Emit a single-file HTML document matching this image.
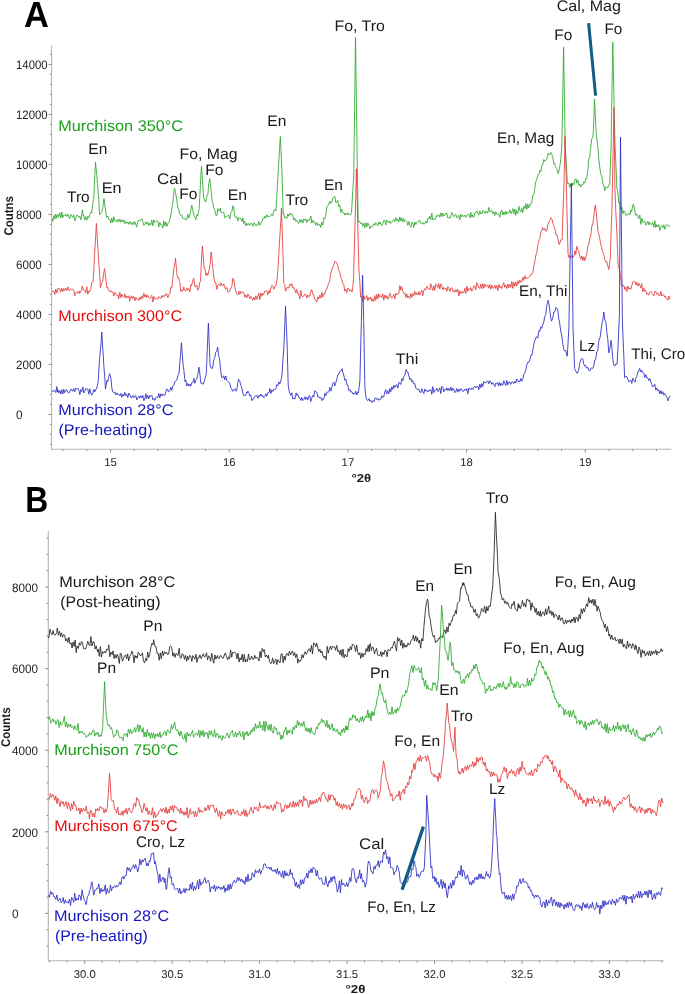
<!DOCTYPE html>
<html><head><meta charset="utf-8"><style>
html,body{margin:0;padding:0;background:#fff;}
body{width:685px;height:994px;overflow:hidden;font-family:"Liberation Sans", sans-serif;}
svg{display:block;will-change:transform;text-rendering:geometricPrecision;}
</style></head><body>
<svg width="685" height="994" viewBox="0 0 685 994" font-family='"Liberation Sans", sans-serif'><line x1="51.6" y1="45.5" x2="51.6" y2="449.3" stroke="#b4b4b4" stroke-width="1.1"/>
<line x1="51.1" y1="449.3" x2="671.4" y2="449.3" stroke="#b4b4b4" stroke-width="1.1"/>
<line x1="49.8" y1="444.4" x2="51.6" y2="444.4" stroke="#8c8c8c" stroke-width="1"/>
<line x1="49.8" y1="434.4" x2="51.6" y2="434.4" stroke="#8c8c8c" stroke-width="1"/>
<line x1="49.8" y1="424.4" x2="51.6" y2="424.4" stroke="#8c8c8c" stroke-width="1"/>
<line x1="48.4" y1="414.4" x2="51.6" y2="414.4" stroke="#8c8c8c" stroke-width="1"/>
<line x1="49.8" y1="404.4" x2="51.6" y2="404.4" stroke="#8c8c8c" stroke-width="1"/>
<line x1="49.8" y1="394.4" x2="51.6" y2="394.4" stroke="#8c8c8c" stroke-width="1"/>
<line x1="49.8" y1="384.4" x2="51.6" y2="384.4" stroke="#8c8c8c" stroke-width="1"/>
<line x1="49.8" y1="374.4" x2="51.6" y2="374.4" stroke="#8c8c8c" stroke-width="1"/>
<line x1="48.4" y1="364.4" x2="51.6" y2="364.4" stroke="#8c8c8c" stroke-width="1"/>
<line x1="49.8" y1="354.4" x2="51.6" y2="354.4" stroke="#8c8c8c" stroke-width="1"/>
<line x1="49.8" y1="344.4" x2="51.6" y2="344.4" stroke="#8c8c8c" stroke-width="1"/>
<line x1="49.8" y1="334.4" x2="51.6" y2="334.4" stroke="#8c8c8c" stroke-width="1"/>
<line x1="49.8" y1="324.4" x2="51.6" y2="324.4" stroke="#8c8c8c" stroke-width="1"/>
<line x1="48.4" y1="314.4" x2="51.6" y2="314.4" stroke="#8c8c8c" stroke-width="1"/>
<line x1="49.8" y1="304.4" x2="51.6" y2="304.4" stroke="#8c8c8c" stroke-width="1"/>
<line x1="49.8" y1="294.4" x2="51.6" y2="294.4" stroke="#8c8c8c" stroke-width="1"/>
<line x1="49.8" y1="284.4" x2="51.6" y2="284.4" stroke="#8c8c8c" stroke-width="1"/>
<line x1="49.8" y1="274.4" x2="51.6" y2="274.4" stroke="#8c8c8c" stroke-width="1"/>
<line x1="48.4" y1="264.4" x2="51.6" y2="264.4" stroke="#8c8c8c" stroke-width="1"/>
<line x1="49.8" y1="254.4" x2="51.6" y2="254.4" stroke="#8c8c8c" stroke-width="1"/>
<line x1="49.8" y1="244.4" x2="51.6" y2="244.4" stroke="#8c8c8c" stroke-width="1"/>
<line x1="49.8" y1="234.4" x2="51.6" y2="234.4" stroke="#8c8c8c" stroke-width="1"/>
<line x1="49.8" y1="224.4" x2="51.6" y2="224.4" stroke="#8c8c8c" stroke-width="1"/>
<line x1="48.4" y1="214.4" x2="51.6" y2="214.4" stroke="#8c8c8c" stroke-width="1"/>
<line x1="49.8" y1="204.4" x2="51.6" y2="204.4" stroke="#8c8c8c" stroke-width="1"/>
<line x1="49.8" y1="194.4" x2="51.6" y2="194.4" stroke="#8c8c8c" stroke-width="1"/>
<line x1="49.8" y1="184.4" x2="51.6" y2="184.4" stroke="#8c8c8c" stroke-width="1"/>
<line x1="49.8" y1="174.4" x2="51.6" y2="174.4" stroke="#8c8c8c" stroke-width="1"/>
<line x1="48.4" y1="164.4" x2="51.6" y2="164.4" stroke="#8c8c8c" stroke-width="1"/>
<line x1="49.8" y1="154.4" x2="51.6" y2="154.4" stroke="#8c8c8c" stroke-width="1"/>
<line x1="49.8" y1="144.4" x2="51.6" y2="144.4" stroke="#8c8c8c" stroke-width="1"/>
<line x1="49.8" y1="134.4" x2="51.6" y2="134.4" stroke="#8c8c8c" stroke-width="1"/>
<line x1="49.8" y1="124.4" x2="51.6" y2="124.4" stroke="#8c8c8c" stroke-width="1"/>
<line x1="48.4" y1="114.4" x2="51.6" y2="114.4" stroke="#8c8c8c" stroke-width="1"/>
<line x1="49.8" y1="104.4" x2="51.6" y2="104.4" stroke="#8c8c8c" stroke-width="1"/>
<line x1="49.8" y1="94.4" x2="51.6" y2="94.4" stroke="#8c8c8c" stroke-width="1"/>
<line x1="49.8" y1="84.4" x2="51.6" y2="84.4" stroke="#8c8c8c" stroke-width="1"/>
<line x1="49.8" y1="74.4" x2="51.6" y2="74.4" stroke="#8c8c8c" stroke-width="1"/>
<line x1="48.4" y1="64.4" x2="51.6" y2="64.4" stroke="#8c8c8c" stroke-width="1"/>
<line x1="49.8" y1="54.4" x2="51.6" y2="54.4" stroke="#8c8c8c" stroke-width="1"/>
<text x="16.0" y="69.2" font-size="12.2" fill="#262626" textLength="31.6" lengthAdjust="spacingAndGlyphs">14000</text>
<text x="16.0" y="119.2" font-size="12.2" fill="#262626" textLength="31.6" lengthAdjust="spacingAndGlyphs">12000</text>
<text x="16.0" y="169.2" font-size="12.2" fill="#262626" textLength="31.6" lengthAdjust="spacingAndGlyphs">10000</text>
<text x="16.0" y="219.2" font-size="12.2" fill="#262626" textLength="25.8" lengthAdjust="spacingAndGlyphs">8000</text>
<text x="16.0" y="269.2" font-size="12.2" fill="#262626" textLength="25.8" lengthAdjust="spacingAndGlyphs">6000</text>
<text x="16.0" y="319.2" font-size="12.2" fill="#262626" textLength="25.8" lengthAdjust="spacingAndGlyphs">4000</text>
<text x="16.0" y="369.2" font-size="12.2" fill="#262626" textLength="25.8" lengthAdjust="spacingAndGlyphs">2000</text>
<text x="16.0" y="419.2" font-size="12.2" fill="#262626" textLength="6.5" lengthAdjust="spacingAndGlyphs">0</text>
<line x1="63.0" y1="449.3" x2="63.0" y2="451.1" stroke="#8c8c8c" stroke-width="1"/>
<line x1="86.8" y1="449.3" x2="86.8" y2="451.1" stroke="#8c8c8c" stroke-width="1"/>
<line x1="110.5" y1="449.3" x2="110.5" y2="452.5" stroke="#8c8c8c" stroke-width="1"/>
<line x1="134.2" y1="449.3" x2="134.2" y2="451.1" stroke="#8c8c8c" stroke-width="1"/>
<line x1="158.0" y1="449.3" x2="158.0" y2="451.1" stroke="#8c8c8c" stroke-width="1"/>
<line x1="181.7" y1="449.3" x2="181.7" y2="451.1" stroke="#8c8c8c" stroke-width="1"/>
<line x1="205.5" y1="449.3" x2="205.5" y2="451.1" stroke="#8c8c8c" stroke-width="1"/>
<line x1="229.2" y1="449.3" x2="229.2" y2="452.5" stroke="#8c8c8c" stroke-width="1"/>
<line x1="252.9" y1="449.3" x2="252.9" y2="451.1" stroke="#8c8c8c" stroke-width="1"/>
<line x1="276.7" y1="449.3" x2="276.7" y2="451.1" stroke="#8c8c8c" stroke-width="1"/>
<line x1="300.4" y1="449.3" x2="300.4" y2="451.1" stroke="#8c8c8c" stroke-width="1"/>
<line x1="324.2" y1="449.3" x2="324.2" y2="451.1" stroke="#8c8c8c" stroke-width="1"/>
<line x1="347.9" y1="449.3" x2="347.9" y2="452.5" stroke="#8c8c8c" stroke-width="1"/>
<line x1="371.6" y1="449.3" x2="371.6" y2="451.1" stroke="#8c8c8c" stroke-width="1"/>
<line x1="395.4" y1="449.3" x2="395.4" y2="451.1" stroke="#8c8c8c" stroke-width="1"/>
<line x1="419.1" y1="449.3" x2="419.1" y2="451.1" stroke="#8c8c8c" stroke-width="1"/>
<line x1="442.9" y1="449.3" x2="442.9" y2="451.1" stroke="#8c8c8c" stroke-width="1"/>
<line x1="466.6" y1="449.3" x2="466.6" y2="452.5" stroke="#8c8c8c" stroke-width="1"/>
<line x1="490.3" y1="449.3" x2="490.3" y2="451.1" stroke="#8c8c8c" stroke-width="1"/>
<line x1="514.1" y1="449.3" x2="514.1" y2="451.1" stroke="#8c8c8c" stroke-width="1"/>
<line x1="537.8" y1="449.3" x2="537.8" y2="451.1" stroke="#8c8c8c" stroke-width="1"/>
<line x1="561.6" y1="449.3" x2="561.6" y2="451.1" stroke="#8c8c8c" stroke-width="1"/>
<line x1="585.3" y1="449.3" x2="585.3" y2="452.5" stroke="#8c8c8c" stroke-width="1"/>
<line x1="609.0" y1="449.3" x2="609.0" y2="451.1" stroke="#8c8c8c" stroke-width="1"/>
<line x1="632.8" y1="449.3" x2="632.8" y2="451.1" stroke="#8c8c8c" stroke-width="1"/>
<line x1="656.5" y1="449.3" x2="656.5" y2="451.1" stroke="#8c8c8c" stroke-width="1"/>
<text x="110.5" y="465.9" font-size="11.3" fill="#262626" text-anchor="middle">15</text>
<text x="229.2" y="465.9" font-size="11.3" fill="#262626" text-anchor="middle">16</text>
<text x="347.9" y="465.9" font-size="11.3" fill="#262626" text-anchor="middle">17</text>
<text x="466.6" y="465.9" font-size="11.3" fill="#262626" text-anchor="middle">18</text>
<text x="585.3" y="465.9" font-size="11.3" fill="#262626" text-anchor="middle">19</text>
<text x="351.6" y="481.8" font-size="11.5" fill="#1a1a1a" font-weight="bold" textLength="19.6" lengthAdjust="spacingAndGlyphs">°2θ</text>
<text x="0" y="0" font-size="12.6" font-weight="bold" fill="#1a1a1a" textLength="39.4" lengthAdjust="spacingAndGlyphs" transform="translate(13.2,235.6) rotate(-90)">Coutns</text>
<text x="24.0" y="26.9" font-size="36.2" fill="#000" font-weight="bold" textLength="24.9" lengthAdjust="spacingAndGlyphs">A</text>
<line x1="48.3" y1="530.8" x2="48.3" y2="960.7" stroke="#b4b4b4" stroke-width="1.1"/>
<line x1="47.8" y1="960.7" x2="663.5" y2="960.7" stroke="#b4b4b4" stroke-width="1.1"/>
<line x1="46.5" y1="946.0" x2="48.3" y2="946.0" stroke="#8c8c8c" stroke-width="1"/>
<line x1="46.5" y1="929.7" x2="48.3" y2="929.7" stroke="#8c8c8c" stroke-width="1"/>
<line x1="45.1" y1="913.4" x2="48.3" y2="913.4" stroke="#8c8c8c" stroke-width="1"/>
<line x1="46.5" y1="897.1" x2="48.3" y2="897.1" stroke="#8c8c8c" stroke-width="1"/>
<line x1="46.5" y1="880.8" x2="48.3" y2="880.8" stroke="#8c8c8c" stroke-width="1"/>
<line x1="46.5" y1="864.4" x2="48.3" y2="864.4" stroke="#8c8c8c" stroke-width="1"/>
<line x1="46.5" y1="848.1" x2="48.3" y2="848.1" stroke="#8c8c8c" stroke-width="1"/>
<line x1="45.1" y1="831.8" x2="48.3" y2="831.8" stroke="#8c8c8c" stroke-width="1"/>
<line x1="46.5" y1="815.5" x2="48.3" y2="815.5" stroke="#8c8c8c" stroke-width="1"/>
<line x1="46.5" y1="799.2" x2="48.3" y2="799.2" stroke="#8c8c8c" stroke-width="1"/>
<line x1="46.5" y1="782.8" x2="48.3" y2="782.8" stroke="#8c8c8c" stroke-width="1"/>
<line x1="46.5" y1="766.5" x2="48.3" y2="766.5" stroke="#8c8c8c" stroke-width="1"/>
<line x1="45.1" y1="750.2" x2="48.3" y2="750.2" stroke="#8c8c8c" stroke-width="1"/>
<line x1="46.5" y1="733.9" x2="48.3" y2="733.9" stroke="#8c8c8c" stroke-width="1"/>
<line x1="46.5" y1="717.6" x2="48.3" y2="717.6" stroke="#8c8c8c" stroke-width="1"/>
<line x1="46.5" y1="701.2" x2="48.3" y2="701.2" stroke="#8c8c8c" stroke-width="1"/>
<line x1="46.5" y1="684.9" x2="48.3" y2="684.9" stroke="#8c8c8c" stroke-width="1"/>
<line x1="45.1" y1="668.6" x2="48.3" y2="668.6" stroke="#8c8c8c" stroke-width="1"/>
<line x1="46.5" y1="652.3" x2="48.3" y2="652.3" stroke="#8c8c8c" stroke-width="1"/>
<line x1="46.5" y1="636.0" x2="48.3" y2="636.0" stroke="#8c8c8c" stroke-width="1"/>
<line x1="46.5" y1="619.6" x2="48.3" y2="619.6" stroke="#8c8c8c" stroke-width="1"/>
<line x1="46.5" y1="603.3" x2="48.3" y2="603.3" stroke="#8c8c8c" stroke-width="1"/>
<line x1="45.1" y1="587.0" x2="48.3" y2="587.0" stroke="#8c8c8c" stroke-width="1"/>
<line x1="46.5" y1="570.7" x2="48.3" y2="570.7" stroke="#8c8c8c" stroke-width="1"/>
<line x1="46.5" y1="554.4" x2="48.3" y2="554.4" stroke="#8c8c8c" stroke-width="1"/>
<line x1="46.5" y1="538.0" x2="48.3" y2="538.0" stroke="#8c8c8c" stroke-width="1"/>
<text x="11.9" y="591.7" font-size="12.2" fill="#262626" textLength="26.0" lengthAdjust="spacingAndGlyphs">8000</text>
<text x="11.9" y="673.3" font-size="12.2" fill="#262626" textLength="26.0" lengthAdjust="spacingAndGlyphs">6000</text>
<text x="11.9" y="754.9" font-size="12.2" fill="#262626" textLength="26.0" lengthAdjust="spacingAndGlyphs">4000</text>
<text x="11.9" y="836.5" font-size="12.2" fill="#262626" textLength="26.0" lengthAdjust="spacingAndGlyphs">2000</text>
<text x="11.9" y="918.1" font-size="12.2" fill="#262626" textLength="6.6" lengthAdjust="spacingAndGlyphs">0</text>
<line x1="49.7" y1="960.7" x2="49.7" y2="962.5" stroke="#8c8c8c" stroke-width="1"/>
<line x1="67.2" y1="960.7" x2="67.2" y2="962.5" stroke="#8c8c8c" stroke-width="1"/>
<line x1="84.7" y1="960.7" x2="84.7" y2="963.9000000000001" stroke="#8c8c8c" stroke-width="1"/>
<line x1="102.2" y1="960.7" x2="102.2" y2="962.5" stroke="#8c8c8c" stroke-width="1"/>
<line x1="119.7" y1="960.7" x2="119.7" y2="962.5" stroke="#8c8c8c" stroke-width="1"/>
<line x1="137.2" y1="960.7" x2="137.2" y2="962.5" stroke="#8c8c8c" stroke-width="1"/>
<line x1="154.7" y1="960.7" x2="154.7" y2="962.5" stroke="#8c8c8c" stroke-width="1"/>
<line x1="172.2" y1="960.7" x2="172.2" y2="963.9000000000001" stroke="#8c8c8c" stroke-width="1"/>
<line x1="189.6" y1="960.7" x2="189.6" y2="962.5" stroke="#8c8c8c" stroke-width="1"/>
<line x1="207.1" y1="960.7" x2="207.1" y2="962.5" stroke="#8c8c8c" stroke-width="1"/>
<line x1="224.6" y1="960.7" x2="224.6" y2="962.5" stroke="#8c8c8c" stroke-width="1"/>
<line x1="242.1" y1="960.7" x2="242.1" y2="962.5" stroke="#8c8c8c" stroke-width="1"/>
<line x1="259.6" y1="960.7" x2="259.6" y2="963.9000000000001" stroke="#8c8c8c" stroke-width="1"/>
<line x1="277.1" y1="960.7" x2="277.1" y2="962.5" stroke="#8c8c8c" stroke-width="1"/>
<line x1="294.6" y1="960.7" x2="294.6" y2="962.5" stroke="#8c8c8c" stroke-width="1"/>
<line x1="312.1" y1="960.7" x2="312.1" y2="962.5" stroke="#8c8c8c" stroke-width="1"/>
<line x1="329.6" y1="960.7" x2="329.6" y2="962.5" stroke="#8c8c8c" stroke-width="1"/>
<line x1="347.1" y1="960.7" x2="347.1" y2="963.9000000000001" stroke="#8c8c8c" stroke-width="1"/>
<line x1="364.5" y1="960.7" x2="364.5" y2="962.5" stroke="#8c8c8c" stroke-width="1"/>
<line x1="382.0" y1="960.7" x2="382.0" y2="962.5" stroke="#8c8c8c" stroke-width="1"/>
<line x1="399.5" y1="960.7" x2="399.5" y2="962.5" stroke="#8c8c8c" stroke-width="1"/>
<line x1="417.0" y1="960.7" x2="417.0" y2="962.5" stroke="#8c8c8c" stroke-width="1"/>
<line x1="434.5" y1="960.7" x2="434.5" y2="963.9000000000001" stroke="#8c8c8c" stroke-width="1"/>
<line x1="452.0" y1="960.7" x2="452.0" y2="962.5" stroke="#8c8c8c" stroke-width="1"/>
<line x1="469.5" y1="960.7" x2="469.5" y2="962.5" stroke="#8c8c8c" stroke-width="1"/>
<line x1="487.0" y1="960.7" x2="487.0" y2="962.5" stroke="#8c8c8c" stroke-width="1"/>
<line x1="504.5" y1="960.7" x2="504.5" y2="962.5" stroke="#8c8c8c" stroke-width="1"/>
<line x1="522.0" y1="960.7" x2="522.0" y2="963.9000000000001" stroke="#8c8c8c" stroke-width="1"/>
<line x1="539.4" y1="960.7" x2="539.4" y2="962.5" stroke="#8c8c8c" stroke-width="1"/>
<line x1="556.9" y1="960.7" x2="556.9" y2="962.5" stroke="#8c8c8c" stroke-width="1"/>
<line x1="574.4" y1="960.7" x2="574.4" y2="962.5" stroke="#8c8c8c" stroke-width="1"/>
<line x1="591.9" y1="960.7" x2="591.9" y2="962.5" stroke="#8c8c8c" stroke-width="1"/>
<line x1="609.4" y1="960.7" x2="609.4" y2="963.9000000000001" stroke="#8c8c8c" stroke-width="1"/>
<line x1="626.9" y1="960.7" x2="626.9" y2="962.5" stroke="#8c8c8c" stroke-width="1"/>
<line x1="644.4" y1="960.7" x2="644.4" y2="962.5" stroke="#8c8c8c" stroke-width="1"/>
<line x1="661.9" y1="960.7" x2="661.9" y2="962.5" stroke="#8c8c8c" stroke-width="1"/>
<text x="84.7" y="977.9" font-size="11.3" fill="#262626" text-anchor="middle">30.0</text>
<text x="172.2" y="977.9" font-size="11.3" fill="#262626" text-anchor="middle">30.5</text>
<text x="259.6" y="977.9" font-size="11.3" fill="#262626" text-anchor="middle">31.0</text>
<text x="347.1" y="977.9" font-size="11.3" fill="#262626" text-anchor="middle">31.5</text>
<text x="434.5" y="977.9" font-size="11.3" fill="#262626" text-anchor="middle">32.0</text>
<text x="522.0" y="977.9" font-size="11.3" fill="#262626" text-anchor="middle">32.5</text>
<text x="609.4" y="977.9" font-size="11.3" fill="#262626" text-anchor="middle">33.0</text>
<text x="345.5" y="993.0" font-size="11.5" fill="#1a1a1a" font-weight="bold" textLength="19.9" lengthAdjust="spacingAndGlyphs">°2θ</text>
<text x="0" y="0" font-size="12.6" font-weight="bold" fill="#1a1a1a" textLength="39.4" lengthAdjust="spacingAndGlyphs" transform="translate(9.5,746.9) rotate(-90)">Counts</text>
<text x="25.3" y="512.4" font-size="36.2" fill="#000" font-weight="bold" textLength="23.0" lengthAdjust="spacingAndGlyphs">B</text>
<path d="M51.8,218.8 L52.8,221.3 L53.8,215.4 L54.8,219.1 L55.8,214.0 L56.8,218.3 L57.8,214.6 L58.8,216.6 L59.8,212.7 L60.8,218.1 L61.8,212.0 L62.8,217.7 L63.8,215.1 L64.6,215.9 L65.8,214.2 L66.8,216.5 L67.8,214.1 L68.8,216.8 L69.8,218.6 L70.8,214.5 L71.9,215.9 L72.8,217.3 L73.8,214.8 L74.8,220.7 L75.8,217.9 L76.8,215.2 L77.8,215.5 L79.2,217.4 L79.8,216.3 L80.8,219.8 L81.5,216.0 L82.4,209.8 L83.3,216.0 L83.8,215.1 L84.3,218.8 L84.8,220.0 L85.8,216.5 L86.8,220.1 L87.8,216.4 L88.7,218.1 L89.8,214.7 L90.8,212.2 L91.6,213.0 L92.8,203.7 L93.8,198.4 L94.8,175.9 L95.5,162.2 L96.8,175.2 L97.4,183.8 L98.8,199.8 L99.6,214.5 L100.8,213.7 L101.8,211.5 L102.8,207.6 L104.0,198.4 L104.8,205.0 L106.2,214.5 L106.8,217.4 L107.8,216.0 L108.8,219.6 L109.9,219.6 L110.8,223.0 L111.8,218.0 L112.8,222.5 L113.8,216.8 L114.8,221.0 L115.7,220.3 L116.8,222.1 L117.8,219.2 L118.8,221.7 L119.8,219.2 L120.8,222.3 L121.8,219.7 L123.0,221.8 L123.8,219.8 L124.8,223.8 L125.8,221.6 L126.8,223.4 L127.8,222.0 L128.8,224.4 L129.8,221.5 L130.3,223.2 L130.8,222.3 L131.8,224.7 L132.8,222.3 L133.8,224.7 L134.8,221.6 L135.8,224.5 L136.8,227.1 L137.6,222.5 L138.8,220.1 L140.0,221.0 L140.8,220.3 L141.8,218.7 L142.8,221.5 L143.8,225.4 L144.9,224.0 L145.8,221.7 L146.8,224.3 L147.8,222.2 L148.8,225.5 L150.0,223.2 L150.8,224.8 L151.8,220.0 L152.8,225.8 L153.8,219.8 L154.6,222.5 L155.8,221.7 L156.8,220.3 L157.8,221.1 L158.8,227.1 L159.8,222.3 L160.8,225.0 L161.9,224.7 L162.8,228.0 L163.8,220.9 L164.8,225.9 L165.8,221.8 L166.8,226.4 L167.8,223.6 L169.2,221.8 L169.8,220.2 L170.8,215.0 L171.4,211.5 L172.8,203.2 L173.8,192.0 L174.6,188.2 L175.8,194.0 L177.2,202.8 L177.8,207.4 L178.8,209.3 L179.4,213.0 L180.8,215.6 L181.8,215.3 L182.8,218.3 L183.8,218.8 L184.8,218.1 L185.8,219.9 L186.7,219.6 L187.8,214.2 L188.8,218.1 L189.6,215.9 L190.8,210.6 L191.8,205.0 L192.8,210.8 L194.0,215.9 L194.8,216.5 L195.8,219.7 L196.9,214.5 L197.8,215.9 L199.1,208.6 L199.8,197.5 L200.8,177.0 L201.5,166.3 L202.8,185.0 L203.5,196.9 L204.8,201.2 L205.7,202.0 L206.8,196.6 L207.9,194.0 L208.8,183.4 L209.8,178.7 L210.8,186.6 L211.8,198.5 L212.3,201.3 L212.8,202.5 L213.8,208.2 L214.8,210.1 L215.9,215.2 L216.8,216.1 L217.8,208.6 L218.8,211.0 L219.8,210.6 L220.3,207.9 L220.8,212.1 L221.8,212.3 L222.5,213.0 L223.8,212.3 L224.8,218.1 L225.8,216.8 L226.8,216.3 L227.6,215.9 L228.8,215.2 L229.8,218.8 L230.8,212.6 L231.8,211.8 L233.0,205.7 L233.8,208.0 L234.8,216.2 L235.6,217.4 L236.8,216.8 L237.8,220.9 L238.8,217.5 L240.0,218.8 L240.8,218.5 L241.8,221.4 L242.3,221.2 L242.8,217.9 L243.8,223.5 L244.8,221.4 L245.8,226.1 L246.8,223.3 L247.8,225.1 L248.8,223.3 L249.6,225.5 L250.8,223.2 L251.8,223.6 L252.8,226.4 L253.8,222.8 L254.8,223.6 L255.8,225.8 L256.9,224.8 L257.8,225.4 L258.8,221.3 L259.8,225.3 L260.8,223.6 L261.8,221.8 L262.8,218.5 L264.2,218.2 L264.8,216.1 L265.8,218.1 L266.8,214.7 L267.8,216.7 L268.8,216.5 L269.8,216.3 L270.8,215.8 L271.5,213.9 L272.8,215.7 L273.8,211.2 L274.8,209.4 L275.9,210.9 L276.8,198.4 L277.3,187.6 L277.8,178.4 L278.8,161.6 L279.8,144.2 L280.4,136.5 L282.0,173.0 L283.2,213.9 L283.8,213.5 L284.8,218.2 L285.4,216.8 L286.8,218.6 L287.8,214.0 L288.8,216.2 L289.8,213.2 L290.5,214.6 L291.8,213.7 L292.8,216.0 L293.8,220.2 L294.8,218.1 L295.8,221.3 L296.8,220.2 L297.8,222.6 L298.8,223.5 L299.8,219.4 L300.8,222.3 L301.8,219.6 L302.8,223.2 L303.8,218.9 L305.1,220.4 L305.8,219.0 L306.8,222.5 L307.8,219.6 L308.8,220.8 L309.5,220.0 L310.9,216.1 L311.8,222.8 L312.3,221.0 L312.8,220.2 L313.8,222.6 L314.8,222.2 L315.8,225.2 L316.8,222.5 L317.8,225.6 L318.8,225.2 L319.7,224.1 L320.8,227.4 L321.8,222.2 L322.8,225.1 L323.3,221.9 L323.8,217.8 L324.8,218.8 L325.8,214.9 L326.8,206.8 L327.8,205.3 L328.4,205.1 L329.8,201.0 L330.8,203.5 L331.8,202.3 L332.8,197.8 L333.8,197.0 L334.8,196.2 L335.8,202.4 L336.8,202.2 L337.8,200.3 L338.3,203.6 L338.8,206.6 L339.8,205.2 L340.8,212.4 L341.8,209.2 L342.7,212.5 L343.8,212.4 L344.8,215.1 L345.8,213.0 L347.1,214.7 L347.8,212.9 L348.8,214.8 L349.8,214.5 L350.8,214.4 L351.5,212.5 L352.8,190.4 L353.8,174.9 L354.8,91.8 L355.5,37.3 L357.1,152.7 L358.2,219.1 L358.8,222.1 L359.8,221.6 L360.4,223.5 L361.8,223.0 L362.8,226.2 L363.8,223.3 L364.8,227.7 L365.8,222.9 L366.8,226.9 L367.8,222.8 L369.2,225.8 L369.8,228.6 L370.8,226.4 L371.8,226.7 L372.8,226.2 L373.8,223.6 L374.8,225.3 L375.8,222.5 L376.8,224.7 L377.8,225.8 L378.8,221.8 L379.8,224.1 L380.3,222.4 L380.8,224.8 L381.8,225.7 L382.8,223.8 L383.8,220.3 L384.8,220.4 L385.8,224.9 L386.8,220.0 L387.8,220.9 L388.8,223.0 L389.8,221.2 L390.8,223.5 L391.4,222.4 L392.8,220.9 L393.8,219.4 L394.8,221.6 L395.8,217.4 L396.8,220.7 L398.0,219.1 L398.8,221.9 L399.8,216.9 L400.8,221.0 L401.8,217.8 L402.8,222.1 L403.8,218.7 L404.6,221.3 L405.8,220.6 L406.8,221.7 L407.8,225.3 L408.8,221.4 L409.8,225.4 L410.8,227.2 L411.3,225.8 L411.8,222.2 L412.8,222.9 L413.8,227.5 L414.8,221.8 L415.8,224.5 L416.8,222.4 L417.9,222.4 L418.8,220.8 L419.8,220.2 L420.8,223.7 L421.8,223.9 L422.8,222.4 L423.8,224.2 L425.0,223.5 L425.8,221.2 L426.8,223.0 L427.8,218.4 L428.8,219.1 L429.8,216.2 L430.8,219.6 L431.8,213.1 L432.8,220.0 L433.8,218.8 L434.8,219.8 L435.8,217.8 L436.8,215.2 L437.5,216.5 L438.8,214.7 L439.8,217.3 L440.8,212.8 L441.8,216.6 L442.8,213.2 L443.8,216.1 L444.8,215.1 L445.8,213.2 L446.3,213.9 L446.8,212.9 L447.8,217.9 L448.8,216.9 L449.8,218.4 L450.8,217.0 L451.8,212.3 L452.8,214.3 L453.8,216.7 L455.0,215.6 L455.8,214.1 L456.8,217.6 L457.8,217.4 L458.8,215.2 L459.8,219.9 L460.8,214.3 L461.8,216.9 L462.8,215.3 L463.8,216.5 L464.8,215.0 L465.8,217.3 L466.8,215.3 L467.8,214.6 L468.8,214.2 L469.8,218.0 L470.8,212.3 L471.8,217.2 L472.6,214.8 L473.8,217.3 L474.8,212.7 L475.8,212.8 L476.8,210.9 L477.8,213.1 L478.8,215.1 L479.8,210.9 L480.8,213.8 L481.3,213.0 L481.8,214.1 L482.8,210.3 L483.8,211.2 L484.8,213.5 L485.8,211.2 L486.8,213.0 L487.8,213.0 L488.8,207.4 L490.1,212.1 L490.8,211.1 L491.8,210.3 L492.8,213.7 L493.8,211.7 L494.8,215.4 L495.8,211.8 L496.8,214.2 L497.8,214.4 L498.8,213.9 L499.8,217.4 L500.8,211.6 L501.8,210.0 L502.8,215.0 L503.8,211.9 L504.8,214.7 L505.8,211.0 L506.8,214.3 L507.6,212.1 L508.8,212.6 L509.8,209.8 L510.8,213.7 L511.8,211.9 L512.8,208.6 L513.8,214.0 L514.8,209.0 L515.8,215.3 L516.4,210.4 L517.8,213.5 L518.8,206.3 L519.8,210.3 L520.8,211.9 L521.8,208.2 L522.8,212.6 L523.8,206.3 L525.1,208.6 L525.8,203.6 L526.8,209.4 L527.8,204.2 L528.8,207.9 L529.8,204.6 L530.4,205.1 L531.8,202.0 L532.8,195.0 L533.9,194.6 L534.8,188.0 L535.8,181.5 L536.5,180.6 L537.8,175.3 L538.8,174.9 L540.0,170.1 L540.8,171.6 L542.1,164.2 L542.8,164.7 L543.8,159.6 L544.8,161.4 L545.8,160.0 L546.8,159.3 L548.1,153.3 L548.8,154.5 L549.8,154.6 L550.8,152.4 L551.7,154.5 L552.8,156.8 L553.8,163.8 L554.8,163.6 L555.4,166.6 L556.8,168.6 L557.8,173.1 L558.5,173.8 L560.2,164.2 L560.8,158.6 L561.9,144.9 L562.8,93.8 L563.6,47.1 L565.2,144.9 L565.8,157.4 L566.8,172.4 L567.4,183.5 L568.8,183.0 L569.8,187.5 L570.8,183.7 L572.2,185.9 L572.8,182.8 L573.8,184.7 L574.8,180.1 L575.9,178.7 L576.8,183.2 L577.8,179.9 L578.8,185.5 L579.8,184.2 L580.7,187.1 L581.8,184.4 L582.8,184.9 L583.8,181.7 L584.8,183.1 L585.8,178.4 L586.7,178.7 L587.8,170.8 L588.8,159.3 L589.8,156.7 L590.4,149.7 L591.8,138.5 L592.8,137.7 L593.3,131.6 L593.8,120.6 L594.5,99.0 L595.8,126.2 L596.4,135.2 L597.8,146.4 L598.8,159.8 L600.0,169.0 L600.8,174.2 L601.8,176.6 L602.8,183.5 L603.8,185.0 L604.8,190.7 L605.8,187.0 L606.8,187.1 L607.8,187.7 L608.8,184.9 L609.7,184.7 L611.1,144.9 L611.8,101.4 L612.8,42.2 L613.8,90.2 L615.0,144.9 L615.8,161.9 L616.9,188.3 L617.8,191.7 L618.8,202.8 L619.8,201.8 L620.5,210.0 L621.8,207.4 L622.8,213.7 L623.8,210.7 L624.8,211.9 L625.8,215.2 L626.6,214.9 L627.8,214.8 L628.8,213.0 L629.8,214.8 L630.8,210.4 L631.5,212.0 L632.8,205.3 L633.3,204.0 L633.8,205.3 L635.0,212.0 L635.8,215.3 L636.8,213.9 L637.4,216.1 L638.8,218.7 L639.8,215.0 L640.8,224.4 L641.8,218.4 L642.8,222.6 L643.5,222.1 L644.8,220.9 L645.8,225.3 L646.8,224.0 L647.8,221.1 L648.8,225.0 L649.8,222.3 L650.7,223.3 L651.8,224.8 L652.8,222.7 L653.8,227.2 L654.8,220.6 L655.8,227.5 L656.8,224.6 L657.8,226.7 L658.8,224.7 L659.8,230.5 L660.4,226.9 L661.8,225.6 L662.8,227.7 L663.8,224.8 L664.8,229.4 L665.8,225.4 L666.8,224.6 L667.8,225.1 L668.8,226.5 L670.0,225.7" fill="none" stroke="#2ca82c" stroke-width="0.85" stroke-linejoin="round" stroke-opacity="1.0"/>
<path d="M51.8,292.0 L52.8,291.1 L53.8,290.9 L54.8,294.5 L55.8,289.2 L56.8,293.1 L57.3,291.2 L57.8,288.6 L58.8,288.9 L59.8,288.7 L60.8,291.9 L61.8,288.4 L62.8,291.5 L63.8,288.5 L64.6,290.5 L65.8,288.2 L66.8,290.7 L67.8,286.8 L68.8,290.1 L69.8,290.6 L70.4,289.1 L71.8,289.4 L72.8,289.1 L73.8,290.0 L74.8,295.6 L75.5,293.4 L76.8,291.7 L77.8,293.3 L79.2,291.2 L79.8,293.5 L80.8,291.4 L81.5,290.0 L82.4,286.1 L83.5,290.0 L85.0,290.5 L85.8,292.8 L86.8,286.8 L87.8,294.3 L88.8,291.0 L89.4,292.0 L90.9,288.3 L91.8,282.4 L93.1,281.8 L93.8,270.2 L94.5,255.5 L95.8,234.3 L96.4,223.4 L98.2,252.6 L98.8,263.1 L99.8,276.3 L100.4,287.6 L101.8,282.7 L102.6,281.8 L103.8,272.6 L104.5,268.6 L106.2,281.8 L106.8,287.7 L107.8,287.0 L108.4,290.5 L109.8,291.8 L110.8,290.4 L111.8,292.3 L112.8,292.0 L113.8,296.0 L114.8,292.2 L115.8,293.8 L117.2,295.6 L117.8,294.8 L118.8,298.7 L119.8,292.3 L120.8,297.7 L121.8,294.2 L123.0,296.4 L123.8,297.2 L124.8,293.8 L125.8,298.1 L126.8,295.9 L127.8,297.8 L128.8,295.8 L129.8,301.3 L130.3,297.1 L130.8,298.1 L131.8,295.7 L132.8,298.6 L133.8,296.4 L134.8,300.9 L135.8,297.4 L136.8,298.9 L137.6,298.5 L138.8,300.5 L139.8,297.0 L140.8,299.5 L141.8,295.8 L142.8,298.4 L143.8,293.3 L144.9,297.1 L145.8,294.4 L146.8,297.7 L147.8,295.3 L148.8,297.5 L149.8,298.5 L150.8,296.6 L151.8,295.2 L152.8,302.1 L153.8,296.5 L154.8,298.9 L155.8,298.6 L156.7,298.1 L157.8,299.3 L158.8,296.6 L159.8,297.8 L160.8,298.5 L161.8,295.5 L162.8,297.3 L164.0,295.2 L164.8,296.3 L165.8,293.9 L166.8,293.8 L167.8,297.6 L169.1,294.5 L169.8,293.7 L170.8,287.1 L172.0,287.2 L172.8,278.4 L174.2,266.7 L174.8,263.9 L175.5,258.2 L177.1,275.5 L177.8,278.0 L178.8,277.7 L179.3,281.3 L179.8,281.6 L180.8,291.5 L181.8,289.7 L182.8,291.3 L183.8,286.9 L184.4,290.1 L185.8,291.1 L186.8,287.8 L187.8,290.2 L188.8,288.6 L189.8,291.8 L190.8,284.8 L191.4,285.7 L193.2,279.1 L193.8,278.3 L194.8,286.2 L195.4,287.2 L196.8,284.9 L197.8,290.3 L199.0,287.9 L199.8,282.0 L200.5,281.3 L201.8,254.3 L202.4,246.0 L204.1,268.2 L204.8,267.6 L205.8,275.1 L206.3,275.5 L206.8,273.0 L207.8,275.2 L209.2,269.6 L209.8,267.1 L211.1,252.1 L211.8,257.7 L212.9,268.2 L213.8,277.5 L215.1,282.8 L215.8,282.5 L216.8,289.3 L217.3,287.2 L217.8,285.1 L218.8,284.3 L219.8,286.0 L220.9,282.8 L221.8,285.5 L222.8,285.8 L223.8,283.8 L224.6,287.2 L225.8,289.2 L226.8,287.4 L227.8,291.8 L228.9,292.3 L229.8,290.8 L231.1,287.2 L231.8,286.9 L232.8,278.5 L233.3,278.4 L233.8,279.7 L234.8,287.2 L236.2,293.0 L236.8,293.8 L237.8,294.9 L238.8,291.0 L239.8,294.5 L240.8,291.4 L241.4,293.0 L242.8,292.2 L243.8,292.7 L244.8,297.2 L245.8,294.9 L246.8,298.0 L247.8,294.0 L248.8,294.9 L249.8,298.8 L250.8,296.4 L251.7,298.5 L252.8,300.2 L253.8,297.0 L254.8,300.1 L255.8,295.9 L256.8,299.3 L257.5,297.8 L258.8,293.3 L259.8,299.6 L260.8,292.8 L261.8,296.3 L262.8,293.6 L263.4,294.9 L264.8,291.0 L265.8,291.4 L266.8,290.6 L267.8,294.8 L269.2,290.5 L269.8,293.1 L270.8,287.9 L271.8,285.5 L272.8,286.2 L273.8,289.3 L275.0,286.1 L275.8,285.8 L277.2,278.8 L277.8,270.6 L278.8,254.5 L279.4,243.8 L280.8,220.8 L281.5,208.0 L282.6,243.8 L283.8,283.2 L284.8,284.5 L285.3,290.5 L285.8,291.2 L286.8,287.7 L288.2,287.6 L288.8,288.0 L289.8,284.2 L290.8,285.8 L291.8,283.5 L292.8,288.1 L294.0,287.6 L294.8,289.8 L295.8,293.0 L296.8,289.5 L297.8,294.0 L298.4,293.4 L299.8,298.8 L300.8,290.4 L301.8,296.3 L302.8,296.6 L304.2,295.6 L304.8,294.1 L305.8,294.4 L306.8,298.1 L307.8,295.0 L308.6,296.4 L309.8,296.1 L311.2,289.8 L311.8,290.0 L313.0,294.9 L313.8,295.2 L314.8,299.4 L315.9,300.0 L316.8,302.2 L317.8,296.9 L318.8,298.9 L319.8,295.0 L320.3,296.4 L320.8,298.2 L321.8,292.5 L322.8,297.2 L323.8,293.5 L324.7,294.2 L325.8,290.0 L326.8,289.4 L327.6,286.1 L328.8,283.4 L329.8,280.0 L330.5,274.5 L331.8,269.9 L332.8,266.9 L334.2,264.2 L334.8,261.4 L336.1,262.0 L336.8,263.1 L337.8,265.5 L338.4,269.7 L339.8,272.2 L340.8,277.6 L341.8,279.9 L342.8,283.7 L343.8,284.5 L344.8,291.3 L345.3,290.2 L345.8,289.3 L346.8,292.5 L347.8,288.0 L348.7,288.5 L349.8,291.2 L350.8,289.8 L352.1,291.9 L352.8,286.7 L353.5,279.9 L354.7,235.5 L355.8,194.0 L356.4,168.8 L357.6,218.4 L358.9,269.7 L359.8,281.3 L360.6,297.0 L361.8,296.3 L362.8,301.8 L363.8,295.9 L364.8,299.3 L365.8,298.7 L366.8,295.5 L367.8,300.9 L368.8,297.6 L369.8,299.3 L370.8,297.1 L371.8,301.3 L372.6,298.7 L373.8,301.5 L374.8,295.6 L375.8,300.3 L376.8,294.3 L377.8,298.8 L378.8,293.7 L379.4,297.0 L380.8,295.7 L381.8,297.7 L382.8,293.9 L383.8,300.2 L384.8,295.0 L385.8,298.2 L386.3,297.0 L386.8,295.7 L387.8,299.3 L388.8,298.1 L389.8,293.2 L390.8,295.8 L391.8,298.2 L393.1,296.2 L393.8,294.3 L394.8,299.0 L395.8,293.1 L396.8,295.0 L398.2,293.6 L398.8,293.6 L399.8,285.6 L400.8,290.1 L401.3,286.8 L401.8,286.6 L402.8,291.6 L404.2,293.6 L404.8,292.8 L405.8,297.5 L406.8,293.8 L407.8,297.9 L408.5,296.2 L409.8,298.4 L410.8,293.5 L411.8,297.3 L412.8,293.7 L413.8,295.6 L414.8,291.4 L415.3,293.6 L415.8,294.9 L416.8,292.8 L417.8,295.0 L418.8,291.5 L419.8,295.1 L420.5,293.6 L421.8,290.2 L422.8,295.7 L423.8,290.5 L424.8,288.7 L425.6,290.2 L426.8,286.4 L427.8,288.0 L428.8,289.2 L430.0,289.9 L430.8,283.8 L431.8,287.0 L432.8,290.5 L433.8,285.7 L434.8,290.4 L435.8,284.1 L436.8,285.0 L438.0,287.5 L438.8,283.7 L439.8,289.0 L440.8,283.9 L441.8,285.7 L442.8,289.9 L443.8,287.4 L444.8,288.9 L446.1,288.3 L446.8,291.3 L447.8,286.6 L448.8,288.3 L449.8,291.6 L450.8,288.4 L451.8,287.7 L452.8,291.7 L454.1,290.7 L454.8,292.2 L455.8,289.6 L456.8,292.0 L457.8,289.3 L458.8,296.0 L459.8,290.7 L460.8,293.7 L462.1,291.5 L462.8,293.0 L463.8,292.7 L464.8,288.4 L465.8,293.6 L466.8,286.4 L467.8,291.4 L468.8,288.5 L470.1,289.9 L470.8,287.5 L471.8,291.4 L472.8,289.5 L473.8,285.9 L474.8,286.1 L475.8,290.0 L476.8,282.7 L478.2,285.9 L478.8,287.8 L479.8,288.3 L480.8,284.2 L481.8,288.7 L482.8,283.6 L483.8,288.2 L484.8,284.0 L486.2,286.7 L486.8,286.0 L487.8,284.8 L488.8,288.2 L489.8,284.6 L490.8,289.2 L491.8,285.0 L492.8,288.4 L494.2,287.5 L494.8,285.2 L495.8,288.6 L496.8,285.5 L497.8,290.6 L498.8,284.4 L499.8,287.9 L500.8,286.2 L501.8,288.7 L502.3,286.7 L502.8,285.6 L503.8,282.6 L504.8,287.4 L505.8,285.1 L506.8,288.5 L507.8,284.0 L508.8,287.8 L509.8,284.3 L510.3,285.1 L510.8,287.3 L511.8,281.4 L512.8,288.4 L513.8,282.2 L514.8,286.2 L515.8,282.1 L516.8,286.2 L517.8,280.7 L518.3,281.9 L518.8,283.6 L519.8,280.1 L520.8,282.2 L521.8,282.0 L522.8,277.3 L523.8,280.4 L524.8,275.7 L525.8,278.9 L526.4,277.9 L527.8,277.9 L528.8,277.5 L530.0,276.1 L531.2,273.9 L531.8,274.1 L532.8,272.7 L533.6,267.4 L534.8,261.7 L536.0,254.6 L536.8,252.7 L537.8,245.4 L539.1,239.9 L539.8,238.5 L540.8,232.5 L541.8,230.5 L542.4,227.5 L543.8,230.1 L544.8,228.4 L545.8,230.9 L546.8,231.0 L547.8,224.6 L549.2,221.8 L549.8,220.4 L550.8,217.8 L552.0,219.1 L552.8,222.9 L553.8,225.7 L554.9,228.6 L555.8,234.6 L556.8,234.5 L557.8,238.3 L558.8,243.8 L559.4,244.5 L560.8,239.9 L562.1,239.9 L562.8,216.2 L563.9,187.9 L565.0,136.4 L566.2,176.6 L566.8,204.8 L568.0,253.5 L568.8,257.4 L569.8,255.8 L570.7,258.0 L571.8,255.2 L572.8,257.8 L574.1,255.8 L574.8,250.7 L575.8,254.6 L576.8,246.2 L577.5,249.0 L578.8,250.9 L579.8,256.7 L580.9,259.2 L581.8,255.8 L582.8,260.8 L583.8,256.7 L584.8,260.6 L585.4,258.0 L586.8,254.1 L587.8,246.2 L588.8,244.0 L590.0,237.7 L590.8,235.3 L591.8,226.2 L592.8,223.8 L593.4,219.6 L594.8,207.8 L595.4,204.9 L596.8,218.3 L597.9,230.9 L598.8,234.3 L599.8,238.9 L600.8,244.7 L601.8,247.7 L602.4,251.3 L603.8,254.6 L604.8,259.7 L605.8,261.9 L606.8,261.4 L608.1,267.1 L608.8,269.4 L609.8,261.2 L610.3,258.0 L610.8,240.6 L611.9,210.5 L612.8,165.2 L614.0,107.4 L614.9,187.9 L615.8,211.2 L616.8,231.6 L617.8,256.6 L618.3,267.1 L618.8,266.6 L619.8,271.4 L620.8,279.3 L621.6,286.3 L622.8,285.6 L623.8,285.4 L624.8,289.6 L625.8,286.9 L626.8,291.7 L627.3,288.6 L627.8,286.0 L628.8,289.2 L629.8,287.7 L630.8,289.3 L632.0,285.0 L632.8,281.9 L634.1,281.8 L634.8,281.2 L636.0,285.0 L636.8,282.4 L637.8,286.1 L638.8,283.3 L639.8,285.2 L640.8,288.2 L641.8,283.7 L642.8,292.0 L643.8,288.3 L644.8,291.1 L645.8,290.4 L646.8,294.3 L647.7,293.1 L648.8,295.1 L649.8,292.4 L650.8,291.3 L651.8,292.8 L652.8,294.4 L653.8,296.0 L654.8,291.2 L655.8,291.7 L656.7,294.2 L657.8,292.8 L658.8,295.3 L659.8,296.0 L660.8,291.4 L661.8,296.1 L662.8,294.9 L663.8,294.8 L664.8,297.3 L665.8,296.5 L666.8,298.9 L667.8,300.2 L668.8,296.0 L669.8,299.3 L670.3,298.8" fill="none" stroke="#e43a3a" stroke-width="0.85" stroke-linejoin="round" stroke-opacity="1.0"/>
<path d="M51.8,390.5 L52.8,391.7 L53.8,390.3 L54.8,390.7 L55.8,392.6 L56.8,386.6 L57.3,392.0 L57.8,389.5 L58.8,393.0 L59.8,390.6 L60.8,394.1 L61.8,389.7 L62.8,394.0 L63.8,389.3 L64.6,392.7 L65.8,390.1 L66.8,389.7 L67.8,392.4 L68.8,393.0 L69.8,391.8 L70.8,389.3 L71.9,389.8 L72.8,391.3 L73.8,388.7 L74.8,391.7 L75.8,388.2 L76.8,389.0 L77.8,388.3 L79.2,391.2 L79.8,394.6 L80.8,389.5 L81.8,391.6 L82.8,387.0 L83.8,393.0 L84.8,391.2 L85.8,388.3 L86.5,389.1 L87.8,389.2 L88.8,394.2 L89.8,388.8 L90.8,393.4 L91.8,395.2 L92.3,393.4 L92.8,393.5 L93.8,389.4 L94.8,391.9 L96.0,389.1 L96.8,388.0 L98.2,381.8 L98.8,370.3 L99.6,358.4 L100.8,345.7 L101.8,332.1 L102.8,349.2 L103.3,355.5 L103.8,365.2 L104.8,377.8 L105.5,389.1 L106.8,380.5 L107.7,381.8 L108.8,376.5 L109.6,373.7 L110.8,377.6 L111.3,381.8 L111.8,387.8 L112.8,392.0 L113.8,392.9 L114.8,392.0 L115.8,394.7 L116.8,392.8 L117.8,395.0 L118.6,394.2 L119.8,395.9 L120.8,393.4 L121.8,397.2 L122.8,394.2 L123.8,396.1 L124.8,392.3 L125.9,395.6 L126.8,394.3 L127.8,397.6 L128.8,393.0 L129.8,394.8 L130.8,397.7 L131.8,397.6 L132.8,395.4 L133.8,397.8 L134.7,396.4 L135.8,395.6 L136.8,399.9 L137.8,397.9 L138.8,396.1 L139.8,398.1 L140.8,395.7 L142.0,397.8 L142.8,395.4 L143.8,400.8 L144.8,398.9 L145.8,393.6 L146.8,398.6 L147.8,395.3 L148.8,399.0 L149.8,395.5 L150.8,396.4 L151.8,395.4 L152.8,399.7 L153.8,398.4 L154.8,400.4 L155.8,397.7 L156.7,397.1 L157.8,397.7 L158.8,393.5 L159.8,397.9 L160.8,393.8 L161.8,396.1 L162.5,394.2 L163.8,394.8 L164.8,395.5 L165.8,391.6 L166.8,389.0 L167.8,389.7 L168.4,392.0 L169.8,390.7 L170.8,387.1 L171.8,390.3 L172.7,386.1 L173.8,385.5 L174.8,382.0 L175.8,380.6 L177.1,379.6 L177.8,375.5 L178.8,374.0 L179.3,370.1 L179.8,362.5 L180.8,351.8 L181.4,342.8 L183.2,365.7 L183.8,369.7 L185.1,381.8 L185.8,380.2 L186.8,386.0 L187.8,383.3 L188.8,386.1 L189.8,384.1 L190.8,386.2 L191.8,382.5 L193.2,381.8 L193.8,378.3 L194.8,383.3 L195.8,380.4 L196.8,378.8 L197.8,374.6 L198.9,367.2 L199.8,373.1 L200.8,383.2 L201.8,382.8 L202.8,384.3 L203.4,383.9 L204.8,379.3 L205.8,375.5 L206.3,373.0 L206.8,361.9 L207.8,335.7 L208.4,323.1 L210.0,364.2 L210.8,367.5 L212.2,368.6 L212.8,366.4 L213.8,359.9 L214.3,358.4 L214.8,357.4 L215.8,352.2 L216.8,351.2 L217.6,347.0 L218.8,356.3 L219.5,358.4 L220.8,371.5 L221.6,377.4 L222.8,377.9 L223.8,375.7 L224.8,379.8 L225.3,377.4 L225.8,376.0 L226.8,380.4 L228.2,381.8 L228.8,382.1 L229.8,383.2 L230.8,388.0 L231.8,388.9 L232.6,391.2 L233.8,390.5 L234.8,388.5 L236.2,391.2 L236.8,390.2 L237.8,382.7 L238.6,379.3 L239.8,381.1 L240.8,385.7 L241.4,386.1 L243.1,394.2 L243.8,395.8 L244.8,395.1 L245.8,395.4 L246.8,392.0 L247.3,392.9 L247.8,391.0 L248.8,392.5 L249.8,396.1 L250.8,394.9 L251.8,400.7 L253.1,398.8 L253.8,398.9 L254.8,396.3 L255.8,395.7 L256.8,395.3 L257.8,398.4 L259.0,395.1 L259.8,396.4 L260.8,394.0 L261.8,396.4 L262.8,395.4 L263.8,397.8 L264.8,396.6 L265.8,393.7 L266.8,396.2 L267.8,392.7 L269.2,392.2 L269.8,388.5 L270.8,393.6 L271.8,389.9 L272.8,391.5 L273.6,389.3 L274.8,389.9 L275.8,388.8 L276.8,384.5 L278.0,385.6 L278.8,381.9 L279.8,383.8 L280.9,380.5 L281.8,376.1 L282.3,370.3 L282.8,361.2 L283.8,348.4 L284.8,325.0 L285.5,306.1 L287.0,341.1 L288.2,384.9 L288.8,389.3 L289.6,392.9 L290.8,395.4 L291.8,392.8 L292.8,399.1 L294.0,398.0 L294.8,399.1 L296.2,392.9 L296.8,395.3 L297.8,394.2 L298.8,397.6 L299.9,398.0 L300.8,400.4 L301.8,397.4 L302.8,400.6 L303.8,399.5 L304.8,396.8 L305.7,399.5 L306.8,397.2 L307.8,399.8 L308.8,396.1 L309.8,395.8 L310.8,401.6 L311.5,398.8 L312.8,395.3 L313.8,396.8 L314.8,390.7 L316.2,391.8 L316.8,392.3 L317.8,397.0 L318.8,396.6 L319.8,398.1 L320.8,397.2 L321.8,400.6 L322.5,398.8 L323.8,399.3 L324.8,393.4 L325.8,395.7 L326.8,391.9 L327.6,392.2 L328.8,391.9 L329.8,387.3 L330.8,391.1 L332.0,387.1 L332.8,383.5 L333.8,382.1 L334.8,385.9 L335.6,383.4 L336.8,379.2 L337.8,374.7 L338.8,374.2 L339.5,371.6 L340.8,371.0 L342.2,368.6 L342.8,372.1 L344.0,376.1 L344.8,380.3 L345.8,379.0 L347.1,385.2 L347.8,385.1 L348.8,390.7 L350.1,389.7 L350.8,392.2 L351.8,391.6 L353.1,394.2 L353.8,393.0 L354.8,394.3 L355.8,391.1 L356.8,394.9 L357.8,392.1 L358.4,392.7 L359.9,380.7 L360.8,343.0 L361.4,320.3 L362.6,275.1 L363.7,320.3 L364.9,388.2 L365.9,397.3 L366.8,399.7 L367.8,400.6 L368.8,398.7 L369.7,401.0 L370.8,400.3 L371.8,402.6 L372.8,400.6 L374.2,401.8 L374.8,398.4 L375.8,397.9 L376.8,399.6 L377.8,398.3 L378.8,400.3 L380.2,398.8 L380.8,399.3 L381.8,395.7 L382.8,397.5 L383.8,396.8 L384.8,391.6 L385.8,389.6 L386.3,392.7 L386.8,393.9 L387.8,390.7 L388.8,393.8 L389.8,388.5 L390.8,391.8 L391.8,386.8 L392.3,388.2 L392.8,389.5 L393.8,385.3 L394.8,387.7 L395.8,385.1 L396.8,384.8 L397.8,388.1 L398.3,385.2 L398.8,382.2 L399.8,383.1 L400.8,384.5 L401.8,378.4 L402.9,380.7 L403.8,376.7 L404.8,375.1 L406.2,369.4 L406.8,371.6 L407.8,371.8 L408.9,376.1 L409.8,379.5 L410.8,378.2 L411.8,381.9 L412.8,380.5 L413.4,383.7 L414.8,383.7 L415.8,388.3 L416.8,388.8 L418.0,389.7 L418.8,389.1 L419.8,392.1 L420.8,392.7 L421.8,388.7 L422.8,392.1 L423.8,393.6 L424.8,389.1 L425.5,391.2 L426.8,390.1 L427.8,392.1 L428.8,390.3 L430.0,390.8 L430.8,389.4 L431.8,394.3 L432.8,386.7 L433.8,392.6 L434.8,390.3 L435.8,390.4 L436.8,388.1 L438.0,391.6 L438.8,390.2 L439.8,387.9 L440.8,393.6 L441.8,386.2 L442.8,387.4 L443.8,391.8 L444.8,389.4 L446.1,390.0 L446.8,387.8 L447.8,390.5 L448.8,388.3 L449.8,390.6 L450.8,387.1 L451.8,391.0 L452.8,388.1 L454.1,390.0 L454.8,392.7 L455.8,391.5 L456.8,388.5 L457.8,392.2 L458.8,389.1 L459.8,391.2 L460.8,388.6 L462.1,390.0 L462.8,391.6 L463.8,391.1 L464.8,389.2 L465.8,390.4 L466.8,388.6 L467.8,393.9 L468.8,388.0 L470.1,389.2 L470.8,389.7 L471.8,387.9 L472.8,389.3 L473.8,387.2 L474.8,386.3 L475.8,388.0 L476.8,386.3 L478.2,386.8 L478.8,389.8 L479.8,383.9 L480.8,387.8 L481.8,383.6 L482.8,386.6 L483.8,381.4 L484.8,382.8 L486.2,382.8 L486.8,381.8 L487.8,380.8 L488.8,383.8 L489.8,380.8 L491.0,382.0 L491.8,384.4 L492.8,382.6 L494.2,385.2 L494.8,386.7 L495.8,383.1 L496.8,384.2 L497.8,382.5 L498.8,386.1 L499.8,382.6 L500.8,385.6 L501.8,383.4 L502.3,384.4 L502.8,385.2 L503.8,380.7 L504.8,383.4 L505.8,385.7 L506.8,380.4 L507.8,384.9 L508.8,382.1 L509.8,382.0 L510.3,383.6 L510.8,384.4 L511.8,382.1 L512.8,381.8 L513.8,383.5 L514.8,381.2 L515.8,383.1 L516.8,379.0 L517.8,380.4 L518.3,382.0 L518.8,381.2 L519.8,381.8 L520.8,378.4 L521.8,381.4 L522.3,379.6 L522.8,379.1 L523.8,374.3 L524.7,373.1 L525.8,370.4 L526.8,364.8 L528.0,361.9 L528.8,362.3 L530.0,359.6 L530.8,355.4 L531.8,355.5 L532.8,350.7 L533.8,344.2 L534.5,341.5 L536.0,337.8 L536.8,336.6 L537.8,337.9 L539.1,330.2 L539.8,331.3 L540.8,326.8 L541.8,328.3 L542.4,325.6 L543.8,322.1 L544.7,316.6 L545.8,314.5 L546.8,305.4 L548.1,300.3 L548.8,302.9 L549.8,309.7 L550.8,318.1 L551.5,321.1 L552.8,317.8 L553.8,312.0 L554.8,311.7 L555.8,307.4 L557.2,308.7 L557.8,310.1 L558.8,319.2 L559.4,321.1 L560.8,331.7 L561.8,336.0 L562.8,343.7 L563.8,349.6 L564.8,350.9 L565.8,350.4 L566.8,355.5 L567.3,356.2 L567.8,346.7 L568.9,327.9 L569.8,273.8 L570.8,218.9 L571.4,183.4 L573.0,327.9 L573.8,347.3 L574.6,368.6 L575.8,371.1 L576.8,373.0 L577.5,373.1 L578.8,369.1 L579.8,363.2 L580.8,359.7 L581.6,358.4 L582.8,359.1 L583.8,364.3 L584.8,366.1 L585.4,365.2 L586.8,368.2 L587.8,367.3 L588.8,370.4 L590.0,370.9 L590.8,368.5 L591.8,368.0 L592.8,368.4 L593.8,365.8 L594.8,359.9 L595.6,359.6 L596.8,352.0 L597.8,350.2 L598.8,340.8 L600.2,336.9 L600.8,332.0 L601.8,324.9 L602.8,320.5 L603.8,312.0 L604.8,319.9 L605.8,321.4 L606.9,332.4 L607.8,339.3 L608.8,352.8 L609.8,349.3 L611.0,340.3 L611.8,346.6 L612.8,358.6 L613.7,365.2 L614.8,366.0 L615.8,363.8 L617.1,364.1 L617.8,350.7 L618.8,328.2 L619.4,316.6 L620.5,137.0 L621.8,265.3 L622.3,316.6 L622.8,331.9 L623.8,355.3 L624.6,377.7 L625.8,376.5 L626.8,376.7 L627.8,379.3 L628.8,382.0 L629.6,381.1 L630.8,380.0 L631.8,383.5 L632.8,378.2 L633.8,380.6 L635.2,382.2 L635.8,378.3 L636.8,376.4 L637.8,371.7 L638.8,371.3 L639.3,368.6 L639.8,368.7 L640.8,372.0 L641.8,370.3 L643.1,373.1 L643.8,373.2 L644.8,377.5 L645.8,374.6 L646.8,377.9 L647.7,377.7 L648.8,380.6 L649.8,378.5 L650.8,381.8 L652.2,385.6 L652.8,387.0 L653.8,385.7 L654.8,384.2 L655.8,390.1 L656.8,388.1 L657.8,391.0 L659.0,390.1 L659.8,394.0 L660.8,390.6 L661.8,394.0 L662.8,391.6 L663.8,395.1 L664.8,393.6 L665.8,395.8 L666.8,396.9 L667.8,400.9 L668.8,398.1 L669.8,396.2 L670.3,396.9" fill="none" stroke="#2a2ac4" stroke-width="0.85" stroke-linejoin="round" stroke-opacity="1.0"/>
<path d="M47.9,637.2 L48.9,637.7 L50.0,629.1 L50.8,632.8 L52.1,634.7 L53.1,630.4 L53.8,634.2 L55.2,635.2 L56.7,632.8 L57.3,627.9 L58.4,635.2 L59.6,631.3 L60.5,636.5 L61.5,632.9 L62.5,637.2 L63.6,634.5 L64.7,635.2 L65.7,641.1 L66.9,638.6 L67.8,642.4 L68.9,637.2 L69.9,644.0 L71.3,643.0 L72.0,648.0 L73.1,641.8 L74.1,646.5 L75.2,639.9 L76.2,652.7 L77.1,645.9 L78.3,648.5 L79.4,642.8 L80.4,645.3 L81.5,641.5 L82.5,642.9 L83.6,648.8 L84.4,648.8 L85.7,649.0 L86.7,645.6 L87.8,641.2 L88.8,644.5 L89.9,645.9 L90.9,636.6 L92.0,646.0 L93.2,641.5 L94.1,641.9 L95.1,649.1 L96.2,645.8 L97.6,651.8 L98.3,649.3 L99.3,656.4 L100.4,646.5 L101.4,657.1 L102.5,651.5 L103.4,653.2 L104.6,651.2 L105.6,653.0 L106.7,649.1 L107.8,650.3 L108.8,644.9 L109.8,656.7 L110.9,652.1 L112.2,654.7 L113.0,650.9 L114.0,658.6 L115.1,654.6 L116.1,658.1 L117.2,654.3 L118.0,656.1 L119.3,663.5 L120.3,653.2 L121.4,653.9 L122.4,661.3 L123.8,657.6 L124.5,655.9 L125.6,654.8 L126.6,659.0 L127.7,653.8 L128.7,661.0 L129.7,656.9 L130.8,654.6 L131.9,651.1 L132.9,653.8 L134.0,662.8 L135.0,655.4 L135.5,657.6 L136.1,656.1 L137.1,658.3 L138.2,652.2 L139.2,653.5 L140.0,655.5 L141.3,655.3 L142.4,652.9 L143.4,660.7 L144.5,662.9 L145.8,658.4 L146.6,660.8 L147.7,652.0 L148.7,657.4 L149.5,655.5 L151.0,646.7 L151.9,643.3 L152.9,644.9 L153.6,639.7 L155.0,646.6 L156.1,646.7 L157.1,653.5 L158.2,653.3 L159.2,660.3 L160.3,652.9 L161.3,658.8 L162.4,651.1 L163.4,655.5 L164.5,651.5 L165.5,653.7 L166.6,652.3 L167.7,654.7 L168.7,654.0 L169.7,646.6 L170.7,646.0 L171.8,647.7 L172.8,656.2 L173.9,652.8 L175.0,657.4 L176.0,653.5 L177.1,654.1 L178.0,655.5 L179.2,648.4 L180.2,658.0 L181.3,657.9 L182.3,653.6 L183.8,656.2 L184.4,659.3 L185.5,655.2 L186.5,661.4 L187.6,656.1 L188.2,659.9 L189.7,655.4 L190.7,656.1 L191.8,661.5 L192.8,655.5 L194.0,657.7 L194.9,659.2 L196.0,654.3 L197.0,662.4 L198.1,657.1 L199.1,657.8 L199.9,654.7 L201.2,658.7 L202.3,656.2 L203.3,653.7 L204.4,656.9 L205.7,656.2 L206.5,652.7 L207.5,660.0 L208.6,655.9 L209.6,656.8 L210.7,661.3 L211.7,653.2 L213.0,659.9 L213.8,663.2 L214.9,654.9 L215.9,659.2 L217.4,655.5 L218.0,658.2 L219.1,658.5 L220.1,655.6 L221.2,655.9 L221.8,657.7 L223.3,658.1 L224.7,654.0 L225.4,653.0 L226.4,656.5 L227.6,659.9 L228.5,656.7 L229.6,658.7 L230.6,649.9 L231.7,657.2 L232.7,652.1 L233.4,652.6 L234.8,652.3 L235.9,653.2 L236.9,658.8 L238.0,653.1 L239.0,662.1 L240.0,657.7 L241.1,660.0 L242.2,654.1 L243.2,661.8 L244.3,654.5 L245.3,662.1 L246.0,659.3 L247.4,661.6 L248.5,654.0 L249.5,659.9 L250.6,659.4 L251.6,656.1 L252.7,659.1 L253.7,659.3 L254.8,655.3 L255.8,658.4 L256.9,657.1 L257.9,658.4 L259.0,661.0 L260.0,651.3 L261.1,657.9 L262.1,648.4 L263.5,651.6 L264.2,649.5 L265.3,656.9 L266.3,655.0 L267.8,658.2 L268.4,655.1 L269.5,661.4 L270.5,663.5 L271.6,663.1 L272.6,657.9 L273.7,663.6 L274.7,661.6 L275.8,659.1 L276.8,664.6 L277.9,659.6 L278.8,661.5 L280.0,663.0 L281.0,654.2 L282.1,653.7 L283.1,662.8 L284.2,656.0 L285.2,660.3 L286.3,653.8 L287.6,653.8 L288.4,655.9 L289.4,651.3 L290.5,654.9 L291.9,651.6 L292.6,651.1 L293.6,655.6 L294.7,652.6 L295.7,657.5 L296.8,654.2 L297.8,663.2 L298.5,659.3 L299.9,661.7 L301.0,660.0 L302.0,654.6 L303.1,657.9 L304.1,654.2 L305.2,651.7 L306.2,654.4 L307.3,652.7 L308.3,649.5 L309.4,648.7 L310.4,651.9 L311.5,645.4 L312.5,654.0 L313.6,642.8 L314.9,643.9 L315.7,646.9 L316.7,643.1 L318.2,649.4 L318.8,651.6 L319.9,649.1 L320.9,653.0 L322.0,651.0 L323.0,655.9 L324.1,657.8 L324.8,656.0 L326.2,659.9 L327.2,646.3 L328.3,653.1 L329.2,649.4 L330.4,646.3 L331.4,649.6 L332.5,646.1 L333.5,647.2 L334.6,647.1 L335.6,650.3 L336.7,645.3 L337.9,651.6 L338.8,650.1 L339.8,654.7 L340.9,649.8 L341.9,656.5 L343.0,649.0 L344.0,658.0 L344.5,656.0 L345.1,654.3 L346.1,656.4 L347.2,656.7 L348.2,648.7 L349.3,651.3 L350.3,646.5 L351.4,649.8 L352.4,644.1 L353.2,645.0 L354.5,645.9 L355.6,651.6 L356.6,644.9 L357.6,651.6 L358.7,654.9 L359.8,652.7 L360.8,658.5 L361.9,653.0 L363.1,657.1 L364.0,653.6 L365.0,654.9 L366.1,648.6 L367.1,651.5 L368.2,645.2 L369.2,651.8 L369.7,645.0 L370.3,643.5 L371.3,650.5 L372.4,646.8 L373.4,647.9 L374.5,654.0 L375.1,651.6 L376.6,648.2 L377.6,654.9 L378.7,655.5 L380.0,655.3 L380.8,651.4 L381.8,656.6 L382.9,652.1 L383.9,654.5 L385.0,650.0 L386.1,651.2 L387.1,656.8 L388.1,649.3 L389.2,650.6 L390.2,650.5 L391.3,647.2 L392.3,648.2 L393.4,643.9 L394.4,641.0 L395.5,646.4 L396.5,651.2 L397.6,637.4 L398.4,641.0 L399.7,638.5 L400.7,645.6 L401.8,640.1 L402.8,648.3 L403.9,643.2 L404.9,647.3 L406.0,645.0 L406.6,647.1 L408.1,642.9 L409.1,645.1 L410.2,643.8 L411.2,639.9 L412.7,639.0 L413.3,635.2 L414.4,641.1 L415.8,635.9 L416.5,641.4 L417.5,637.6 L418.8,643.1 L419.6,640.0 L420.7,648.2 L421.7,638.5 L422.9,641.0 L423.8,628.1 L425.0,614.4 L425.9,606.0 L427.4,599.1 L428.0,600.8 L429.1,615.8 L430.1,618.5 L431.2,627.1 L432.2,632.8 L432.7,634.9 L433.3,636.7 L434.3,635.3 L435.4,642.7 L436.2,641.0 L437.5,641.4 L438.5,638.5 L439.3,639.0 L440.6,635.6 L441.7,636.7 L442.7,638.0 L443.4,632.8 L444.8,629.8 L445.9,633.5 L446.9,626.9 L447.4,629.8 L448.0,632.2 L449.0,623.2 L450.1,625.6 L451.5,620.6 L452.2,620.9 L453.2,615.3 L454.3,615.7 L455.6,610.4 L456.4,613.8 L457.4,603.1 L458.7,602.2 L459.5,601.3 L460.7,587.9 L461.6,588.4 L462.7,582.8 L463.2,585.4 L463.7,582.7 L464.8,585.9 L465.8,589.9 L466.9,594.4 L467.9,594.6 L469.0,601.6 L469.9,602.2 L471.1,607.3 L472.1,606.2 L473.2,608.5 L474.0,612.4 L475.3,609.3 L476.3,615.7 L477.4,613.8 L478.4,618.2 L479.1,617.5 L480.5,613.6 L481.6,608.4 L482.6,610.3 L483.7,612.1 L484.2,608.3 L484.7,606.3 L485.8,613.3 L486.8,606.6 L487.9,611.0 L488.9,605.8 L490.4,606.3 L491.0,600.2 L492.1,590.8 L492.8,585.8 L494.2,551.8 L495.4,512.3 L496.3,532.5 L497.3,552.6 L498.1,571.5 L499.4,579.6 L500.6,594.0 L501.5,595.1 L502.2,599.9 L503.6,598.4 L504.7,603.3 L505.7,601.2 L506.7,604.2 L507.8,602.4 L508.9,606.5 L509.9,607.4 L511.0,608.8 L512.0,603.9 L512.8,605.3 L514.1,601.2 L515.2,609.1 L516.2,609.8 L517.3,611.2 L518.3,603.5 L518.8,608.2 L519.4,605.2 L520.4,608.7 L521.5,604.4 L522.5,600.4 L523.6,606.3 L524.6,603.2 L525.7,607.2 L526.7,599.4 L527.8,599.2 L528.5,601.2 L529.9,600.4 L530.9,610.4 L532.0,602.8 L532.7,606.8 L534.1,606.7 L535.1,612.5 L536.2,608.2 L537.2,615.0 L538.3,611.3 L539.3,616.0 L540.4,610.8 L541.0,616.5 L542.5,612.2 L543.5,612.2 L544.6,615.6 L545.6,608.7 L546.7,614.7 L547.7,610.1 L548.8,606.1 L549.3,612.3 L549.8,613.6 L550.9,610.7 L551.9,615.4 L553.0,611.8 L554.0,617.6 L555.1,614.0 L556.1,614.8 L557.2,616.8 L558.2,620.0 L559.3,615.0 L560.4,620.7 L561.4,618.0 L562.4,617.9 L563.5,623.3 L564.5,624.0 L565.6,619.7 L566.6,623.5 L567.7,620.3 L568.8,622.1 L569.8,619.9 L570.8,623.0 L571.9,619.0 L572.9,621.4 L574.0,617.0 L575.0,623.0 L576.1,616.9 L577.1,617.9 L578.2,621.4 L579.2,614.5 L580.3,618.9 L581.3,608.8 L582.4,613.7 L583.4,608.5 L584.5,611.8 L585.4,608.2 L586.6,603.9 L587.6,606.7 L588.7,597.6 L589.7,602.9 L591.0,599.9 L591.8,603.4 L592.9,599.1 L593.9,605.6 L595.0,599.4 L596.0,606.4 L596.5,605.4 L597.1,611.1 L598.1,606.3 L599.2,609.6 L600.2,612.4 L601.2,617.9 L602.3,620.9 L603.4,622.1 L604.4,627.6 L605.4,624.2 L606.5,631.6 L607.5,626.5 L609.0,635.9 L609.6,634.0 L610.7,639.4 L611.7,635.0 L612.8,639.5 L613.8,639.6 L614.9,637.2 L615.9,640.9 L617.3,640.1 L618.0,639.4 L619.1,643.6 L620.1,638.8 L621.2,643.8 L622.2,639.1 L623.3,647.1 L624.2,644.2 L625.4,647.2 L626.4,648.8 L627.5,641.0 L628.5,647.4 L629.6,643.9 L630.6,644.4 L631.7,648.4 L632.7,643.6 L633.8,644.9 L634.8,649.8 L635.3,648.4 L635.9,644.9 L636.9,650.1 L638.0,653.6 L639.0,647.0 L640.1,649.8 L641.1,657.5 L642.2,649.8 L643.2,653.2 L644.3,650.8 L645.3,656.1 L646.4,654.0 L647.4,651.7 L648.5,655.5 L649.5,650.7 L650.6,656.1 L651.6,651.0 L652.7,654.3 L653.7,651.3 L654.8,653.4 L655.8,649.9 L656.9,654.9 L657.5,651.2 L659.0,653.1 L660.0,652.0 L661.1,648.7 L662.1,651.7 L663.1,649.8" fill="none" stroke="#222222" stroke-width="0.85" stroke-linejoin="round" stroke-opacity="1.0"/>
<path d="M48.6,719.6 L49.6,716.6 L50.8,723.2 L51.7,721.7 L52.8,718.6 L53.8,721.8 L54.9,720.5 L55.9,724.5 L57.4,720.3 L58.0,719.5 L59.1,727.7 L59.6,726.1 L60.1,721.4 L61.2,725.4 L62.5,723.2 L63.3,721.1 L64.3,716.4 L65.4,727.0 L66.4,722.2 L67.5,727.8 L68.4,723.9 L69.6,726.9 L70.6,724.0 L71.3,727.6 L72.7,726.3 L73.8,729.7 L74.8,725.6 L75.7,728.3 L76.9,730.2 L78.0,723.4 L79.0,733.5 L80.0,731.2 L81.1,732.9 L82.2,731.2 L83.2,733.8 L84.4,733.4 L85.3,735.3 L86.4,737.6 L87.3,735.6 L88.5,736.0 L89.5,732.6 L90.6,735.1 L91.7,733.4 L92.7,730.8 L93.7,729.7 L94.8,736.2 L96.1,732.7 L96.9,734.5 L97.9,732.4 L99.0,736.9 L100.0,734.8 L101.2,736.4 L102.1,732.1 L102.7,727.6 L103.2,713.6 L104.6,681.6 L105.6,705.7 L106.3,715.9 L107.4,722.5 L108.4,725.9 L109.2,724.7 L110.5,729.1 L111.6,727.5 L112.2,730.5 L113.7,737.2 L115.1,734.9 L115.8,735.3 L116.8,729.8 L118.0,732.0 L118.9,736.2 L120.0,738.1 L120.9,737.1 L122.1,737.8 L123.1,740.6 L124.2,733.8 L125.3,734.9 L126.3,733.6 L127.3,737.1 L128.4,729.2 L129.7,733.4 L130.5,729.0 L131.5,733.9 L132.6,731.2 L133.6,731.6 L134.7,727.4 L135.7,732.4 L137.0,727.6 L137.8,724.5 L138.9,732.1 L139.9,725.0 L141.4,730.5 L142.0,732.3 L143.1,727.7 L144.1,736.9 L145.0,732.0 L146.2,736.9 L147.3,729.4 L148.4,736.0 L149.4,732.8 L150.5,738.6 L151.0,734.9 L151.5,732.8 L152.6,737.7 L153.6,732.9 L154.7,738.6 L155.7,734.0 L156.8,736.4 L157.8,733.5 L158.9,737.0 L159.9,731.9 L161.0,737.8 L161.9,734.9 L163.1,735.0 L164.1,731.7 L165.2,731.4 L166.2,735.8 L167.3,729.9 L168.5,730.5 L169.4,732.9 L170.4,732.9 L171.5,724.7 L172.5,729.1 L173.9,725.0 L174.6,722.2 L175.7,728.8 L176.7,730.8 L177.8,729.6 L178.8,734.6 L179.4,732.7 L179.9,736.1 L180.9,731.0 L182.0,735.1 L183.0,739.0 L184.1,739.1 L185.1,733.7 L186.2,742.3 L187.2,732.1 L188.2,736.0 L189.3,733.8 L190.4,736.4 L191.4,733.4 L192.5,730.4 L193.5,737.2 L194.6,735.5 L195.6,733.3 L196.9,733.8 L197.7,735.4 L198.8,730.1 L199.8,737.5 L200.9,730.8 L201.9,735.5 L203.0,730.4 L204.0,737.0 L205.1,732.5 L205.7,733.8 L207.2,732.7 L208.2,738.6 L209.3,730.7 L210.3,735.0 L211.4,730.7 L212.4,736.3 L213.5,736.5 L214.5,729.6 L215.6,737.3 L216.6,733.8 L217.7,733.3 L218.7,738.4 L219.8,735.4 L221.0,738.2 L221.9,740.4 L222.9,735.5 L224.0,738.1 L225.0,737.8 L226.1,736.3 L227.1,733.1 L227.6,733.8 L228.2,735.1 L229.2,738.2 L230.3,733.2 L231.3,732.8 L232.4,730.3 L233.4,736.4 L234.5,736.7 L235.5,732.0 L236.6,737.0 L237.6,733.0 L238.5,734.9 L239.7,731.1 L240.8,736.3 L241.8,736.6 L242.9,731.5 L243.9,739.9 L245.0,732.5 L246.0,734.6 L247.1,731.2 L248.1,736.2 L249.5,732.7 L250.2,734.5 L251.3,729.9 L252.3,732.2 L253.4,727.4 L254.4,730.9 L255.5,723.7 L256.0,727.2 L256.5,728.4 L257.6,725.4 L258.6,728.1 L259.7,721.5 L260.7,727.7 L261.8,725.3 L262.8,730.5 L263.9,721.1 L264.9,731.6 L266.0,721.4 L267.0,726.1 L268.1,729.7 L269.1,724.6 L270.2,730.7 L271.2,724.1 L272.3,732.0 L273.3,733.2 L274.4,726.3 L275.8,729.4 L276.5,728.2 L277.5,734.8 L278.6,733.3 L279.6,731.8 L280.7,739.5 L281.2,739.3 L281.7,735.0 L282.8,738.5 L283.8,731.4 L284.5,731.6 L285.9,727.2 L287.0,735.2 L288.0,730.3 L289.1,733.3 L290.1,729.8 L291.6,731.0 L292.2,734.3 L293.3,727.0 L294.3,729.7 L295.4,725.5 L296.4,727.9 L297.5,720.3 L298.5,725.5 L299.2,722.3 L300.6,726.2 L301.7,722.9 L302.7,726.3 L303.8,721.1 L304.8,727.2 L305.9,731.1 L306.9,727.7 L308.0,731.9 L309.0,728.2 L310.1,733.4 L311.1,727.7 L312.2,733.0 L313.5,733.2 L314.3,734.8 L315.3,732.5 L316.4,727.1 L317.4,729.0 L318.5,723.5 L319.5,724.5 L320.0,722.3 L320.6,723.1 L321.6,718.8 L322.7,722.5 L323.7,720.2 L324.4,721.2 L325.8,727.0 L326.9,720.3 L327.9,727.9 L329.0,724.3 L330.0,730.0 L331.0,727.7 L332.1,723.5 L333.2,730.9 L334.2,728.2 L335.3,731.5 L336.3,731.6 L337.4,729.0 L338.4,734.3 L339.7,732.1 L340.5,735.8 L341.6,729.4 L342.6,732.4 L343.7,727.9 L344.7,732.7 L345.8,725.9 L346.3,729.9 L346.8,725.8 L347.9,730.2 L348.9,721.8 L350.0,717.7 L351.0,720.3 L352.1,719.0 L352.9,714.6 L354.2,717.5 L355.2,715.7 L356.3,721.0 L357.3,718.5 L358.4,722.0 L359.4,722.3 L360.5,717.0 L361.5,721.3 L362.6,716.0 L363.6,721.8 L364.7,718.1 L366.0,715.7 L366.8,718.0 L367.8,709.9 L368.9,718.2 L369.9,712.9 L371.0,721.0 L372.0,711.3 L372.6,715.7 L373.1,712.3 L374.1,715.4 L375.2,707.5 L375.9,706.9 L377.3,697.8 L378.3,695.8 L379.8,683.9 L380.4,685.4 L381.5,693.8 L382.5,692.8 L383.5,700.4 L384.6,702.8 L385.7,699.6 L386.7,707.5 L387.9,713.5 L388.8,714.6 L389.9,712.0 L390.9,714.3 L392.0,706.7 L393.0,714.1 L394.5,711.3 L395.1,709.5 L396.2,713.3 L397.2,707.9 L398.3,711.0 L398.9,709.1 L400.4,705.8 L401.4,700.0 L402.5,695.3 L403.2,696.0 L404.6,696.0 L405.6,690.4 L406.7,692.8 L407.6,688.3 L408.8,682.9 L409.8,673.3 L410.9,669.7 L411.9,665.8 L413.0,672.6 L414.2,665.3 L415.1,668.1 L416.1,669.8 L417.2,669.6 L418.6,667.5 L419.3,670.9 L420.3,673.0 L421.4,667.5 L422.4,680.0 L423.0,678.5 L423.5,678.6 L424.5,686.3 L425.6,680.0 L426.6,689.2 L427.7,684.9 L428.4,689.4 L430.0,688.7 L430.8,689.0 L431.9,690.7 L432.9,682.5 L433.8,684.9 L435.0,682.7 L436.1,687.0 L436.6,690.6 L437.1,689.4 L438.5,675.4 L439.2,660.0 L440.4,637.4 L441.6,605.2 L442.4,614.0 L443.3,628.0 L444.5,640.1 L445.2,650.7 L446.6,651.8 L448.0,660.2 L448.7,656.3 L449.7,644.2 L450.3,642.2 L450.8,645.9 L451.8,665.9 L452.9,662.4 L453.9,669.9 L454.7,669.7 L456.0,672.6 L457.1,670.6 L458.5,673.5 L459.2,671.2 L460.2,675.5 L461.3,683.0 L462.3,683.2 L463.4,679.3 L464.4,683.4 L465.5,676.4 L466.1,677.3 L467.6,673.7 L468.6,677.8 L469.7,672.4 L470.8,673.5 L471.8,669.7 L472.8,670.9 L473.9,665.2 L474.9,668.9 L475.9,664.0 L477.0,666.7 L478.4,673.5 L479.1,672.4 L480.2,678.6 L481.2,680.6 L482.2,681.1 L483.3,684.1 L484.4,683.0 L485.4,693.5 L486.9,688.7 L487.5,690.6 L488.6,688.1 L489.6,685.0 L490.7,690.9 L491.7,689.5 L492.6,690.6 L493.8,687.1 L494.9,687.1 L495.9,689.0 L497.0,685.3 L498.0,683.4 L499.1,687.4 L500.2,683.0 L501.2,686.8 L502.2,687.1 L503.3,681.7 L504.3,686.8 L505.4,689.5 L505.9,686.8 L506.4,689.2 L507.5,687.9 L508.5,683.7 L509.6,686.5 L510.6,676.5 L511.6,683.9 L512.7,683.2 L513.8,688.0 L514.8,683.4 L515.9,687.3 L516.9,681.6 L518.0,682.3 L519.2,686.8 L520.1,688.0 L521.1,684.7 L522.2,684.4 L523.2,684.1 L524.3,687.2 L525.3,685.2 L526.8,685.8 L527.4,678.5 L528.5,685.9 L529.5,680.3 L530.6,685.6 L531.6,678.1 L532.5,681.1 L533.7,680.5 L534.8,674.0 L535.8,675.3 L536.3,671.6 L536.9,666.8 L537.9,666.6 L539.3,660.2 L540.0,662.6 L541.1,662.3 L542.1,668.3 L543.2,666.0 L543.9,669.7 L545.3,674.9 L546.3,671.4 L547.7,679.2 L548.4,676.9 L549.5,681.0 L550.0,680.3 L550.5,685.6 L551.6,685.7 L552.6,692.6 L553.7,691.0 L554.7,699.0 L555.8,698.3 L557.0,703.1 L557.9,702.5 L558.9,707.5 L560.0,704.1 L561.0,706.1 L562.3,708.3 L563.1,708.0 L564.2,715.2 L565.2,709.3 L566.3,714.3 L567.5,713.6 L568.4,710.7 L569.4,717.2 L570.5,710.6 L571.5,717.0 L572.8,711.8 L573.6,710.1 L574.7,718.0 L575.7,715.9 L576.3,720.6 L576.8,723.5 L577.8,722.5 L578.9,720.1 L579.9,724.8 L581.0,720.3 L581.5,722.3 L582.0,721.7 L583.1,724.9 L584.1,727.5 L585.2,721.3 L586.2,730.0 L586.8,725.8 L587.3,724.8 L588.3,723.0 L589.4,725.6 L590.4,721.8 L591.5,724.8 L592.5,720.1 L593.6,724.4 L594.6,720.6 L595.5,721.5 L596.7,718.8 L597.8,721.4 L598.8,725.0 L599.9,721.3 L600.9,721.6 L602.0,728.1 L602.6,726.7 L604.0,729.5 L605.1,723.7 L606.1,732.2 L607.2,723.7 L608.2,733.5 L609.3,727.4 L610.3,730.7 L611.3,729.3 L612.4,730.0 L613.5,725.3 L614.5,731.5 L615.6,726.3 L616.6,728.8 L617.7,722.1 L618.7,729.5 L620.1,725.8 L620.8,731.3 L621.9,727.4 L622.9,724.5 L624.0,728.8 L625.3,725.0 L626.1,731.8 L627.1,728.0 L628.2,724.0 L629.2,732.0 L630.6,730.2 L631.3,734.8 L632.4,730.2 L633.4,728.4 L634.5,734.1 L635.5,736.7 L636.6,729.8 L637.6,734.6 L638.7,738.3 L639.7,736.8 L641.1,739.9 L641.8,738.0 L642.9,741.2 L643.9,737.0 L645.0,741.4 L646.0,734.7 L647.1,737.2 L648.1,734.6 L649.2,736.3 L650.2,733.2 L651.3,737.5 L652.3,735.3 L653.4,732.1 L654.4,734.8 L655.1,732.8 L656.5,731.9 L657.6,727.9 L658.6,730.0 L659.5,725.8 L660.7,727.2 L661.8,733.5 L663.0,732.8" fill="none" stroke="#2ca82c" stroke-width="0.85" stroke-linejoin="round" stroke-opacity="1.0"/>
<path d="M48.5,799.6 L49.5,799.1 L50.3,793.4 L51.6,797.4 L52.7,794.2 L53.8,796.1 L54.8,800.3 L55.8,795.9 L56.9,803.8 L57.9,798.1 L59.0,801.3 L60.0,806.8 L61.1,800.8 L62.5,803.9 L63.2,801.6 L64.2,806.4 L65.3,803.9 L66.0,801.3 L67.4,808.7 L68.4,802.2 L69.5,806.6 L70.5,811.0 L71.6,803.5 L72.6,809.2 L73.7,801.2 L74.8,805.7 L75.8,805.2 L76.8,810.7 L78.3,810.1 L78.9,807.9 L80.0,814.2 L81.0,808.1 L82.1,812.1 L83.5,808.3 L84.2,810.4 L85.2,811.0 L86.3,806.1 L87.3,813.4 L88.8,811.8 L89.4,819.1 L90.5,810.0 L91.5,810.9 L92.6,817.0 L93.6,813.2 L94.1,814.5 L94.7,817.4 L95.7,808.9 L96.8,810.8 L97.6,808.3 L98.9,810.9 L99.9,806.4 L101.1,808.3 L102.0,807.7 L103.1,808.2 L104.1,813.3 L104.6,811.8 L105.2,808.8 L106.2,812.1 L107.2,808.3 L108.3,794.5 L109.5,773.3 L110.4,785.1 L111.2,799.6 L112.5,801.2 L113.3,800.4 L114.6,808.6 L115.1,810.1 L115.7,809.6 L116.7,813.1 L117.8,807.1 L118.8,815.1 L120.3,813.6 L120.9,815.1 L122.0,811.0 L123.0,815.4 L124.1,810.1 L125.1,813.0 L125.6,811.0 L126.2,808.3 L127.2,814.3 L128.3,808.7 L129.3,808.2 L130.4,812.1 L131.4,812.9 L132.6,811.0 L133.5,805.0 L134.6,802.9 L135.6,806.7 L136.7,797.4 L137.9,800.4 L138.8,799.7 L139.8,805.7 L140.5,805.7 L141.9,812.7 L143.0,810.8 L144.0,803.4 L144.9,806.6 L146.1,811.2 L147.2,807.6 L148.2,814.8 L149.3,810.7 L150.1,813.6 L151.4,815.1 L152.5,807.7 L153.5,818.0 L154.6,811.7 L155.6,817.6 L157.1,814.5 L157.7,815.0 L158.8,811.4 L160.0,810.5 L160.9,808.6 L161.9,811.9 L163.0,808.6 L164.0,809.2 L165.1,812.8 L166.1,807.2 L166.6,811.6 L167.2,813.8 L168.2,809.0 L169.3,813.0 L170.3,806.1 L171.4,810.0 L172.4,805.4 L173.5,812.1 L174.5,805.5 L175.3,807.2 L176.6,807.1 L177.7,810.6 L178.7,809.6 L179.8,813.4 L180.8,808.1 L181.9,813.8 L182.9,811.3 L184.0,815.3 L185.0,811.8 L186.1,815.2 L187.1,807.6 L188.2,818.1 L189.2,813.8 L190.3,808.8 L191.3,814.2 L192.8,812.7 L193.4,811.1 L194.5,817.0 L195.5,811.3 L196.6,816.7 L197.6,813.4 L198.7,807.5 L199.7,812.6 L200.8,810.0 L201.8,812.2 L202.9,811.6 L203.8,810.5 L205.0,807.5 L206.0,811.0 L207.1,808.0 L208.1,805.0 L209.2,810.2 L210.2,805.3 L211.3,805.3 L212.6,806.1 L213.4,804.9 L214.4,810.0 L215.5,812.7 L216.5,807.8 L218.0,814.9 L218.6,816.4 L219.7,810.9 L220.7,818.9 L221.8,811.8 L222.8,814.6 L223.9,815.5 L224.9,815.6 L225.7,811.6 L227.0,813.3 L228.1,809.4 L229.1,813.7 L230.2,809.1 L231.2,815.1 L232.3,809.3 L233.3,809.0 L234.4,813.5 L235.4,813.8 L236.6,811.6 L237.5,810.6 L238.6,815.3 L239.6,814.6 L240.7,815.7 L241.7,811.6 L242.8,814.4 L243.8,809.4 L244.9,816.2 L245.9,810.1 L247.0,816.7 L247.6,813.8 L249.1,813.9 L250.1,809.1 L251.2,807.3 L252.2,812.4 L253.3,813.2 L254.3,806.9 L255.4,809.0 L256.3,807.2 L257.5,810.5 L258.5,811.1 L259.6,802.4 L260.6,807.7 L261.7,807.5 L262.9,806.1 L263.8,807.8 L264.8,805.2 L265.9,805.6 L266.9,808.8 L268.0,805.9 L269.0,809.3 L269.5,808.3 L270.1,807.0 L271.1,804.8 L272.2,809.2 L273.2,810.5 L274.3,804.5 L275.3,808.7 L276.4,801.6 L277.4,802.0 L278.2,803.9 L279.5,803.1 L280.6,803.7 L281.6,812.5 L282.6,809.4 L283.7,811.4 L284.8,805.2 L285.8,804.6 L286.9,808.7 L287.9,805.1 L289.0,807.9 L290.0,802.5 L291.4,806.1 L292.1,807.3 L293.2,801.1 L294.2,807.3 L295.3,802.4 L296.3,806.4 L297.4,802.3 L298.4,806.3 L299.5,799.7 L300.1,802.8 L301.6,799.8 L302.6,806.4 L303.7,795.9 L305.0,800.7 L305.8,798.7 L306.8,799.8 L307.9,804.7 L308.9,807.4 L310.0,800.2 L311.0,804.6 L311.6,802.9 L312.1,800.4 L313.1,804.1 L314.2,800.7 L315.2,803.2 L316.3,799.0 L317.3,802.6 L318.1,800.7 L319.4,797.2 L320.5,801.6 L321.5,794.2 L322.5,794.2 L323.6,791.9 L324.7,794.7 L325.7,798.8 L326.9,798.5 L327.8,802.0 L328.9,794.5 L329.9,800.2 L331.0,794.6 L332.4,796.3 L333.1,795.5 L334.1,800.3 L335.2,798.0 L336.2,805.3 L337.3,801.7 L337.8,805.1 L338.3,806.5 L339.4,803.5 L340.4,807.8 L341.5,804.3 L342.5,809.3 L343.6,803.8 L344.4,807.3 L345.7,804.6 L346.7,809.1 L347.8,806.0 L348.8,804.8 L349.9,810.1 L351.0,807.3 L352.0,803.1 L353.0,806.0 L354.1,799.1 L355.4,798.5 L356.2,794.1 L357.2,790.6 L358.6,788.7 L359.3,788.6 L360.4,790.4 L361.4,799.2 L361.9,797.4 L362.5,794.9 L363.5,801.7 L364.6,802.8 L365.6,797.2 L366.7,797.3 L367.7,803.8 L368.5,800.7 L369.8,801.4 L370.9,793.9 L371.9,790.3 L373.0,789.6 L374.0,793.7 L375.1,790.9 L376.1,789.7 L377.2,791.0 L378.2,798.1 L379.4,794.2 L380.3,790.7 L381.4,776.6 L382.4,772.3 L383.4,760.9 L384.5,765.5 L385.6,773.8 L386.6,780.9 L387.1,781.0 L387.7,781.7 L388.7,789.3 L389.8,789.3 L390.4,796.3 L391.9,793.6 L392.9,801.1 L394.0,799.3 L394.8,798.5 L396.1,796.1 L397.1,794.6 L398.2,796.4 L399.2,790.9 L400.3,800.3 L401.3,792.0 L402.4,792.2 L403.4,789.1 L404.5,794.1 L405.5,786.0 L406.8,787.6 L407.6,782.5 L408.7,784.9 L409.7,776.2 L410.8,779.0 L411.8,770.5 L412.3,772.3 L412.9,770.1 L413.9,763.2 L415.0,769.7 L416.0,761.7 L416.7,761.3 L418.1,757.4 L419.2,761.3 L420.2,755.3 L421.3,761.3 L422.3,757.3 L423.2,758.0 L424.4,757.2 L425.5,756.4 L426.5,761.2 L427.6,755.5 L428.7,759.1 L429.7,762.7 L430.7,770.7 L432.0,774.4 L432.8,773.9 L433.9,777.1 L434.9,774.6 L436.4,777.7 L437.0,776.1 L438.1,781.5 L439.1,772.8 L440.2,778.3 L440.8,775.5 L442.3,760.9 L443.3,755.7 L444.4,741.6 L445.5,722.8 L446.5,714.1 L447.2,703.1 L448.8,722.8 L449.6,725.2 L450.5,736.0 L452.0,742.6 L452.8,745.6 L453.6,751.3 L454.9,727.2 L455.9,751.3 L456.4,757.9 L457.0,758.1 L458.0,770.1 L458.6,773.2 L459.1,771.5 L460.1,774.4 L461.2,772.1 L462.2,768.0 L463.3,773.1 L464.1,768.8 L465.4,766.4 L466.4,770.6 L467.5,765.4 L468.5,769.4 L469.6,765.1 L470.7,765.5 L471.7,766.1 L472.7,761.6 L473.8,767.3 L475.0,762.3 L475.9,765.5 L476.9,757.0 L478.0,762.4 L479.4,757.9 L480.1,760.3 L481.1,757.0 L482.2,757.1 L483.2,763.8 L483.8,762.3 L484.3,765.8 L485.3,762.5 L486.4,770.9 L487.4,768.8 L488.2,772.1 L489.5,771.2 L490.6,776.9 L491.6,771.7 L492.7,776.2 L493.7,772.0 L494.7,775.4 L495.8,774.2 L496.9,774.7 L497.9,782.5 L499.1,778.7 L500.0,782.0 L501.1,775.9 L502.1,773.7 L503.5,769.9 L504.2,766.8 L505.3,771.8 L506.3,768.3 L507.4,778.6 L508.4,774.6 L509.5,771.5 L510.1,773.2 L511.6,769.3 L512.6,773.6 L513.7,771.0 L514.7,775.5 L515.8,776.5 L516.6,771.0 L517.9,768.3 L518.9,774.4 L520.0,767.1 L521.0,771.2 L522.1,761.3 L523.2,768.8 L524.2,767.7 L525.2,770.5 L526.3,773.5 L527.6,774.3 L528.4,774.8 L529.4,772.4 L530.5,775.1 L531.5,770.0 L532.6,775.9 L533.6,774.4 L534.2,771.0 L534.7,769.2 L535.7,768.9 L536.8,772.0 L537.8,763.9 L538.9,766.0 L539.6,766.6 L541.0,761.6 L542.0,762.8 L543.1,757.3 L544.0,757.9 L545.2,755.2 L546.2,755.3 L547.3,758.4 L547.9,755.7 L549.4,761.0 L550.4,759.9 L551.7,764.4 L552.5,760.7 L553.6,771.9 L554.6,766.8 L555.7,766.6 L556.7,772.1 L558.2,773.2 L558.8,777.4 L559.9,769.7 L560.9,782.5 L562.0,777.7 L562.6,779.8 L564.1,780.4 L565.1,783.3 L566.2,782.4 L567.2,789.1 L568.3,783.9 L569.2,786.3 L570.4,789.3 L571.4,787.5 L572.9,791.4 L573.5,790.5 L574.6,796.2 L575.6,789.8 L576.7,795.5 L577.3,795.0 L578.8,799.6 L579.8,793.3 L580.9,799.8 L581.7,797.2 L583.0,803.5 L584.0,799.9 L585.3,803.8 L586.1,806.6 L587.2,797.8 L588.2,803.4 L589.0,798.7 L590.3,800.9 L591.4,798.5 L592.4,804.0 L593.5,796.4 L594.8,800.9 L595.6,800.0 L596.6,802.8 L597.7,800.9 L598.7,798.8 L599.8,806.8 L600.7,803.1 L601.9,800.3 L602.9,801.4 L603.9,804.7 L605.0,796.2 L606.0,804.2 L606.5,801.6 L607.1,803.0 L608.1,799.5 L609.2,806.3 L610.2,800.9 L610.9,803.8 L612.3,807.0 L613.4,812.3 L614.4,807.3 L615.3,809.6 L616.5,806.0 L617.6,804.2 L618.2,805.3 L619.7,801.1 L620.7,804.3 L621.8,802.5 L622.6,799.4 L623.9,797.2 L624.9,799.7 L626.0,798.9 L627.0,798.2 L627.7,795.8 L629.1,794.6 L630.2,807.3 L631.3,803.8 L632.3,808.0 L633.3,806.1 L634.2,810.4 L635.4,806.8 L636.5,812.4 L637.5,810.7 L638.6,808.2 L639.6,806.3 L640.7,812.8 L641.7,807.6 L643.0,810.4 L643.8,809.6 L644.9,813.6 L645.9,809.2 L647.0,812.9 L648.0,808.0 L648.8,810.4 L650.1,807.8 L651.2,813.9 L652.2,809.0 L653.2,812.6 L654.3,810.8 L655.4,812.7 L656.4,815.6 L657.6,808.9 L658.5,801.3 L659.6,799.8 L660.6,806.8 L661.7,798.0 L662.7,802.0 L663.4,803.1" fill="none" stroke="#e43a3a" stroke-width="0.85" stroke-linejoin="round" stroke-opacity="1.0"/>
<path d="M48.5,894.8 L49.5,897.2 L50.6,891.4 L51.1,892.2 L51.6,894.3 L52.7,892.6 L53.7,896.7 L54.6,896.6 L55.8,899.4 L56.9,894.9 L57.9,901.0 L59.0,900.1 L60.0,898.3 L61.1,902.8 L62.5,901.0 L63.2,897.5 L64.2,903.6 L65.3,899.9 L66.3,902.7 L67.8,901.8 L68.4,903.2 L69.5,899.2 L70.5,905.5 L71.6,897.3 L73.0,900.1 L73.7,902.4 L74.7,893.2 L75.8,900.9 L76.8,898.0 L78.3,900.1 L78.9,895.1 L80.0,895.6 L81.0,900.3 L82.1,889.9 L82.7,894.0 L84.2,899.7 L85.3,901.8 L86.3,904.7 L87.3,896.7 L88.8,894.8 L89.4,890.9 L90.5,889.2 L91.5,882.2 L92.0,881.7 L92.6,886.3 L93.6,895.0 L94.1,894.8 L94.7,890.3 L95.7,890.3 L96.8,888.1 L97.6,888.7 L98.9,883.9 L99.9,893.6 L101.0,888.3 L102.0,891.9 L102.8,889.6 L104.1,891.2 L105.2,884.9 L106.2,894.3 L107.3,888.5 L108.1,892.2 L109.4,892.7 L110.4,884.9 L111.5,891.0 L112.5,887.0 L113.3,887.8 L114.6,885.7 L115.7,887.5 L116.7,885.3 L117.8,886.7 L118.6,885.2 L119.9,881.9 L120.9,884.6 L122.0,877.3 L123.0,876.2 L123.8,879.1 L125.1,875.5 L126.2,875.5 L127.2,867.2 L128.2,870.3 L129.3,867.8 L130.4,872.0 L131.4,869.0 L132.6,866.8 L133.5,864.7 L134.6,868.7 L135.6,864.5 L137.0,868.5 L137.7,872.1 L138.8,867.7 L139.8,859.1 L140.9,864.8 L142.2,859.8 L143.0,862.0 L144.0,859.9 L145.1,858.1 L146.1,862.8 L146.6,865.9 L147.2,863.3 L148.2,865.8 L149.3,860.8 L150.1,861.5 L151.4,853.6 L152.7,853.7 L153.5,852.6 L154.6,864.0 L155.4,861.5 L156.7,869.2 L158.0,875.5 L158.8,883.1 L159.8,874.0 L160.9,881.8 L161.5,880.8 L163.0,877.0 L164.4,882.6 L165.1,878.2 L166.1,889.5 L166.6,889.1 L167.2,883.4 L168.2,873.5 L169.2,867.7 L170.3,878.1 L171.4,876.9 L172.0,884.7 L173.5,883.8 L174.5,889.0 L175.6,889.6 L176.4,889.1 L177.7,888.0 L178.7,893.1 L179.8,888.3 L180.8,894.0 L181.9,891.3 L182.9,892.2 L184.0,888.5 L185.0,892.9 L186.1,888.4 L187.1,890.6 L188.5,889.1 L189.2,890.3 L190.3,883.9 L191.3,889.2 L192.4,882.1 L193.4,890.9 L194.5,886.2 L195.0,886.9 L195.5,889.9 L196.6,887.2 L197.6,880.6 L198.7,889.1 L199.7,879.0 L200.8,885.4 L201.6,882.6 L202.9,883.4 L203.9,879.5 L205.0,877.7 L206.0,883.2 L207.1,881.5 L208.1,880.2 L209.2,882.4 L210.2,892.1 L211.3,886.9 L212.6,886.9 L213.4,888.9 L214.4,884.9 L215.5,891.4 L216.5,886.4 L217.6,888.7 L218.6,886.3 L219.1,888.0 L219.7,887.2 L220.7,889.8 L221.8,887.0 L222.8,889.1 L223.9,885.5 L224.9,892.3 L225.7,888.0 L227.0,890.7 L228.1,884.6 L229.1,890.3 L230.2,883.8 L231.2,889.0 L232.3,884.7 L233.3,882.0 L234.4,880.4 L235.4,882.6 L236.5,882.1 L237.7,877.1 L238.6,880.7 L239.6,877.8 L240.7,881.4 L241.7,879.0 L243.2,882.6 L243.8,880.6 L244.9,884.4 L245.9,876.8 L247.0,881.9 L248.0,874.2 L249.1,881.3 L249.8,879.3 L251.2,879.8 L252.2,872.7 L253.3,874.9 L254.3,877.2 L255.4,869.8 L256.3,872.7 L257.5,870.8 L258.5,872.7 L259.6,868.9 L260.6,874.2 L261.8,870.5 L262.7,869.6 L263.8,864.0 L265.1,863.9 L265.9,866.0 L266.9,868.1 L268.0,868.0 L269.0,867.0 L269.5,868.3 L270.1,869.6 L271.1,867.2 L272.2,871.1 L273.2,870.2 L273.9,871.6 L275.3,869.4 L276.4,873.5 L277.4,868.3 L278.5,874.6 L279.5,871.1 L280.4,873.8 L281.6,877.2 L282.7,871.0 L283.7,878.3 L284.8,870.7 L285.9,876.0 L286.9,872.7 L287.9,875.8 L289.0,875.7 L290.3,869.4 L291.1,874.6 L292.1,872.8 L293.2,879.0 L294.2,878.8 L294.7,882.6 L295.3,886.3 L296.3,881.9 L297.4,887.7 L298.4,884.5 L299.0,885.8 L299.5,888.6 L300.5,879.6 L301.6,884.5 L302.6,879.7 L303.7,883.8 L304.5,878.2 L305.8,877.8 L306.8,873.0 L307.9,878.2 L308.9,870.7 L309.4,872.0 L310.0,872.8 L311.0,868.6 L312.1,872.9 L313.1,867.1 L313.8,867.6 L315.2,869.0 L316.3,876.0 L317.3,870.4 L318.1,876.3 L319.4,879.3 L320.5,878.6 L321.5,877.9 L322.6,883.8 L323.6,884.0 L324.7,884.7 L325.7,876.5 L326.8,883.7 L327.8,886.9 L329.1,880.7 L329.9,882.9 L331.0,876.9 L332.0,881.6 L333.1,876.6 L334.1,878.6 L334.6,876.3 L335.2,881.6 L336.2,883.9 L336.7,887.3 L337.3,892.1 L338.3,888.6 L339.4,880.8 L340.4,893.0 L341.5,879.5 L342.2,885.1 L343.6,883.1 L344.6,886.0 L345.7,886.3 L346.7,882.6 L347.8,886.7 L348.8,882.9 L349.9,877.5 L350.9,881.5 L352.0,869.2 L353.2,868.7 L354.1,870.5 L355.1,878.8 L356.5,882.9 L357.2,877.5 L358.3,878.3 L359.7,869.8 L360.4,878.8 L361.4,873.5 L362.5,882.0 L363.5,880.3 L364.6,883.1 L365.2,887.3 L366.7,881.3 L367.7,865.7 L368.5,861.0 L369.8,863.2 L370.9,870.5 L371.8,872.0 L373.0,873.8 L374.0,866.4 L375.1,869.2 L376.1,865.0 L377.3,865.4 L378.2,860.6 L379.3,867.4 L380.3,861.5 L381.6,861.0 L382.4,862.5 L383.5,852.0 L384.3,854.4 L385.6,849.8 L386.6,858.9 L387.8,856.6 L388.7,863.7 L389.8,856.9 L390.8,867.8 L391.5,867.6 L392.9,868.1 L394.0,874.8 L394.8,872.0 L396.1,871.3 L397.1,865.3 L398.1,867.6 L399.2,872.0 L400.3,881.8 L401.3,882.9 L402.4,884.6 L403.4,881.1 L404.5,885.9 L405.7,881.8 L406.6,882.9 L407.6,881.8 L408.7,877.1 L410.1,876.3 L410.8,876.7 L411.8,868.5 L412.9,869.6 L413.9,860.9 L414.5,861.0 L415.0,865.6 L416.0,867.7 L416.7,876.3 L418.1,873.9 L419.2,877.3 L420.2,875.2 L421.0,872.0 L422.3,871.2 L423.4,871.5 L424.3,867.6 L425.9,834.7 L426.7,795.3 L427.6,808.6 L428.7,823.8 L429.7,843.7 L430.9,867.6 L431.8,866.1 L432.8,878.6 L434.2,876.3 L434.9,881.9 L436.0,877.6 L437.0,884.3 L438.1,881.7 L438.6,885.1 L439.1,887.5 L440.2,883.8 L441.2,879.3 L442.3,888.7 L443.3,880.9 L444.4,887.7 L445.1,882.9 L446.9,896.0 L447.5,897.8 L448.6,885.8 L449.6,888.7 L450.6,882.9 L451.7,888.3 L452.8,880.2 L453.8,885.3 L454.4,882.9 L454.9,879.7 L455.9,876.7 L457.0,877.9 L458.0,872.3 L458.8,870.9 L460.1,874.9 L461.2,865.5 L462.2,876.4 L463.1,869.8 L464.3,872.2 L465.4,878.9 L466.4,878.5 L467.5,874.8 L468.5,878.9 L469.6,884.7 L470.8,881.8 L471.7,885.2 L472.7,880.2 L473.8,883.1 L474.8,877.5 L476.3,879.6 L476.9,876.8 L478.0,879.7 L479.0,873.9 L480.1,878.5 L481.1,873.7 L482.2,879.0 L482.8,876.3 L484.3,879.2 L485.3,876.9 L486.4,871.4 L487.4,875.9 L488.3,874.2 L489.5,878.3 L490.5,876.3 L491.6,864.4 L492.7,845.7 L493.7,817.4 L494.7,798.6 L495.8,819.4 L496.4,834.7 L496.9,836.2 L497.9,856.2 L499.3,874.2 L500.0,873.1 L501.1,888.0 L502.1,893.3 L502.6,893.9 L503.2,893.0 L504.2,892.1 L505.3,898.7 L506.3,895.4 L507.4,899.5 L508.4,895.3 L509.1,899.3 L510.5,895.6 L511.6,900.7 L512.6,893.9 L513.7,899.4 L514.6,893.9 L515.8,892.9 L516.8,885.9 L517.9,886.5 L519.0,881.8 L520.0,878.8 L521.0,883.8 L522.3,880.7 L523.1,878.3 L524.2,882.7 L525.2,881.6 L526.3,882.1 L527.7,884.0 L528.4,888.2 L529.4,886.7 L530.5,891.0 L531.5,890.6 L532.6,895.7 L533.6,894.7 L534.3,898.2 L535.7,895.1 L536.8,897.1 L537.6,895.0 L538.9,897.3 L539.9,897.9 L541.0,905.3 L542.0,907.0 L543.1,902.0 L544.1,902.0 L545.2,907.9 L546.2,899.6 L547.3,905.9 L548.5,900.4 L549.4,903.1 L550.4,900.2 L551.5,897.0 L552.5,906.0 L553.6,899.9 L554.6,899.4 L555.1,902.6 L555.7,905.7 L556.7,901.8 L557.8,906.9 L558.8,902.3 L559.9,907.8 L560.9,902.8 L561.7,905.9 L563.0,904.7 L564.1,909.1 L565.1,904.2 L566.2,907.4 L567.2,902.6 L568.3,907.6 L569.3,901.9 L570.4,905.9 L571.4,902.7 L572.5,907.8 L573.5,909.9 L574.6,910.5 L575.6,905.1 L576.7,904.5 L577.3,906.7 L578.8,904.7 L579.8,908.5 L580.9,905.9 L581.9,910.5 L583.0,902.4 L584.0,904.9 L584.6,907.4 L585.1,904.5 L586.1,908.1 L587.2,903.5 L588.2,908.0 L589.3,908.5 L590.3,904.4 L591.4,907.7 L591.9,906.0 L592.4,902.1 L593.5,907.5 L594.5,909.8 L595.6,908.1 L596.6,902.5 L597.7,907.5 L598.7,905.2 L599.2,906.7 L599.8,914.1 L600.8,905.1 L601.9,908.8 L602.9,900.5 L603.9,906.8 L605.0,900.7 L606.0,905.1 L606.5,903.8 L607.1,902.4 L608.1,904.4 L609.2,900.3 L610.2,901.5 L611.3,904.6 L612.3,899.2 L613.8,903.1 L614.4,901.0 L615.5,905.3 L616.5,898.9 L617.6,902.4 L618.6,900.7 L619.7,897.6 L621.1,898.0 L621.8,899.3 L622.8,895.2 L623.9,900.8 L624.9,895.3 L626.0,904.2 L627.0,896.0 L628.4,898.7 L629.1,897.2 L630.2,898.8 L631.2,896.0 L632.3,903.0 L633.3,894.3 L634.4,899.2 L635.7,895.8 L636.5,893.9 L637.5,897.7 L638.6,891.1 L639.6,897.9 L640.7,891.4 L641.7,897.8 L643.0,893.6 L643.8,894.9 L644.9,891.0 L645.9,895.2 L647.0,891.2 L648.0,897.8 L649.1,889.8 L650.3,894.3 L651.2,890.0 L652.2,899.8 L653.3,897.1 L654.3,893.7 L655.4,899.1 L656.4,892.8 L657.6,895.0 L658.5,891.7 L659.6,894.7 L660.6,895.4 L661.7,887.7 L662.7,889.2" fill="none" stroke="#2a2ac4" stroke-width="0.85" stroke-linejoin="round" stroke-opacity="1.0"/>
<line x1="588.6" y1="23.2" x2="595.6" y2="95.6" stroke="#105c82" stroke-width="3"/>
<line x1="402.1" y1="889.8" x2="423.4" y2="826.6" stroke="#105c82" stroke-width="3.3"/>
<text x="58.3" y="130.7" font-size="15.4" fill="#18a018" textLength="124.6" lengthAdjust="spacingAndGlyphs">Murchison 350°C</text>
<text x="58.3" y="321.0" font-size="15.4" fill="#e60c0c" textLength="123.8" lengthAdjust="spacingAndGlyphs">Murchison 300°C</text>
<text x="58.3" y="415.2" font-size="15.4" fill="#1616be" textLength="115.0" lengthAdjust="spacingAndGlyphs">Murchison 28°C</text>
<text x="58.5" y="435.1" font-size="15.4" fill="#1616be" textLength="94.0" lengthAdjust="spacingAndGlyphs">(Pre-heating)</text>
<text x="67.1" y="202.0" font-size="15.3" fill="#1a1a1a" textLength="22.6" lengthAdjust="spacingAndGlyphs">Tro</text>
<text x="88.3" y="153.9" font-size="15.3" fill="#1a1a1a" textLength="19.0" lengthAdjust="spacingAndGlyphs">En</text>
<text x="101.7" y="192.6" font-size="15.3" fill="#1a1a1a" textLength="19.8" lengthAdjust="spacingAndGlyphs">En</text>
<text x="157.1" y="183.5" font-size="15.3" fill="#1a1a1a" textLength="25.4" lengthAdjust="spacingAndGlyphs">Cal</text>
<text x="179.3" y="198.7" font-size="15.3" fill="#1a1a1a" textLength="18.0" lengthAdjust="spacingAndGlyphs">Fo</text>
<text x="179.5" y="158.7" font-size="15.3" fill="#1a1a1a" textLength="58.0" lengthAdjust="spacingAndGlyphs">Fo, Mag</text>
<text x="205.3" y="175.3" font-size="15.3" fill="#1a1a1a" textLength="18.2" lengthAdjust="spacingAndGlyphs">Fo</text>
<text x="227.7" y="199.9" font-size="15.3" fill="#1a1a1a" textLength="19.4" lengthAdjust="spacingAndGlyphs">En</text>
<text x="267.3" y="126.0" font-size="15.3" fill="#1a1a1a" textLength="19.0" lengthAdjust="spacingAndGlyphs">En</text>
<text x="285.5" y="204.8" font-size="15.3" fill="#1a1a1a" textLength="22.8" lengthAdjust="spacingAndGlyphs">Tro</text>
<text x="323.9" y="189.9" font-size="15.3" fill="#1a1a1a" textLength="19.0" lengthAdjust="spacingAndGlyphs">En</text>
<text x="334.5" y="31.1" font-size="15.3" fill="#1a1a1a" textLength="50.4" lengthAdjust="spacingAndGlyphs">Fo, Tro</text>
<text x="496.9" y="142.5" font-size="15.3" fill="#1a1a1a" textLength="57.4" lengthAdjust="spacingAndGlyphs">En, Mag</text>
<text x="556.7" y="10.9" font-size="15.3" fill="#1a1a1a" textLength="64.2" lengthAdjust="spacingAndGlyphs">Cal, Mag</text>
<text x="554.3" y="39.8" font-size="15.3" fill="#1a1a1a" textLength="18.0" lengthAdjust="spacingAndGlyphs">Fo</text>
<text x="604.5" y="34.3" font-size="15.3" fill="#1a1a1a" textLength="17.8" lengthAdjust="spacingAndGlyphs">Fo</text>
<text x="519.1" y="296.2" font-size="15.3" fill="#1a1a1a" textLength="48.2" lengthAdjust="spacingAndGlyphs">En, Thi</text>
<text x="395.5" y="363.8" font-size="15.3" fill="#1a1a1a" textLength="22.8" lengthAdjust="spacingAndGlyphs">Thi</text>
<text x="579.1" y="351.2" font-size="15.3" fill="#1a1a1a" textLength="16.2" lengthAdjust="spacingAndGlyphs">Lz</text>
<text x="631.3" y="359.1" font-size="15.3" fill="#1a1a1a" textLength="53.8" lengthAdjust="spacingAndGlyphs">Thi, Cro</text>
<text x="59.3" y="586.8" font-size="15.4" fill="#1a1a1a" textLength="116.0" lengthAdjust="spacingAndGlyphs">Murchison 28°C</text>
<text x="60.3" y="606.8" font-size="15.4" fill="#1a1a1a" textLength="100.2" lengthAdjust="spacingAndGlyphs">(Post-heating)</text>
<text x="54.3" y="755.4" font-size="15.4" fill="#18a018" textLength="124.0" lengthAdjust="spacingAndGlyphs">Murchison 750°C</text>
<text x="54.3" y="831.3" font-size="15.4" fill="#e60c0c" textLength="123.4" lengthAdjust="spacingAndGlyphs">Murchison 675°C</text>
<text x="53.9" y="920.7" font-size="15.4" fill="#1616be" textLength="115.4" lengthAdjust="spacingAndGlyphs">Murchison 28°C</text>
<text x="54.9" y="940.6" font-size="15.4" fill="#1616be" textLength="93.0" lengthAdjust="spacingAndGlyphs">(Pre-heating)</text>
<text x="143.3" y="631.4" font-size="15.3" fill="#1a1a1a" textLength="19.0" lengthAdjust="spacingAndGlyphs">Pn</text>
<text x="415.3" y="590.5" font-size="15.3" fill="#1a1a1a" textLength="18.8" lengthAdjust="spacingAndGlyphs">En</text>
<text x="453.5" y="574.0" font-size="15.3" fill="#1a1a1a" textLength="19.0" lengthAdjust="spacingAndGlyphs">En</text>
<text x="485.7" y="503.1" font-size="15.3" fill="#1a1a1a" textLength="23.0" lengthAdjust="spacingAndGlyphs">Tro</text>
<text x="554.7" y="587.4" font-size="15.3" fill="#1a1a1a" textLength="81.2" lengthAdjust="spacingAndGlyphs">Fo, En, Aug</text>
<text x="97.1" y="672.8" font-size="15.3" fill="#1a1a1a" textLength="19.0" lengthAdjust="spacingAndGlyphs">Pn</text>
<text x="369.9" y="678.0" font-size="15.3" fill="#1a1a1a" textLength="19.6" lengthAdjust="spacingAndGlyphs">Pn</text>
<text x="503.3" y="652.6" font-size="15.3" fill="#1a1a1a" textLength="81.0" lengthAdjust="spacingAndGlyphs">Fo, En, Aug</text>
<text x="439.3" y="695.3" font-size="15.3" fill="#1a1a1a" textLength="19.4" lengthAdjust="spacingAndGlyphs">En</text>
<text x="394.3" y="746.4" font-size="15.3" fill="#1a1a1a" textLength="45.8" lengthAdjust="spacingAndGlyphs">Fo, En</text>
<text x="450.9" y="720.7" font-size="15.3" fill="#1a1a1a" textLength="22.0" lengthAdjust="spacingAndGlyphs">Tro</text>
<text x="135.9" y="847.0" font-size="15.3" fill="#1a1a1a" textLength="49.2" lengthAdjust="spacingAndGlyphs">Cro, Lz</text>
<text x="359.1" y="848.5" font-size="15.3" fill="#1a1a1a" textLength="25.2" lengthAdjust="spacingAndGlyphs">Cal</text>
<text x="488.9" y="793.6" font-size="15.3" fill="#1a1a1a" textLength="16.4" lengthAdjust="spacingAndGlyphs">Lz</text>
<text x="367.3" y="912.0" font-size="15.3" fill="#1a1a1a" textLength="68.6" lengthAdjust="spacingAndGlyphs">Fo, En, Lz</text></svg>
</body></html>
